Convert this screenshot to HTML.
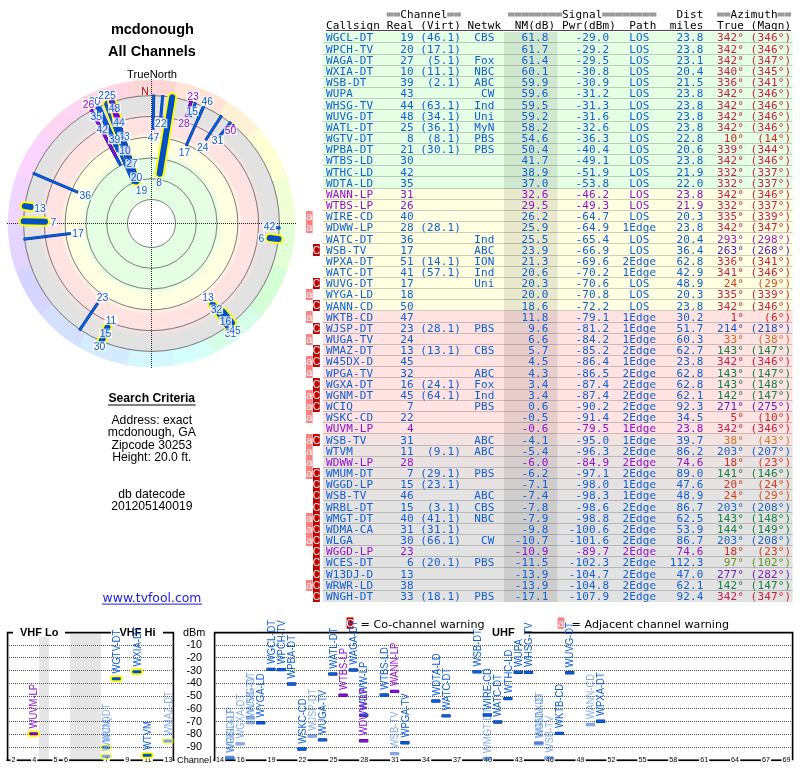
<!DOCTYPE html>
<html lang="en"><head><meta charset="utf-8"><title>TV Fool - mcdonough - All Channels</title>
<style>
html,body{margin:0;padding:0;background:#fff}
svg{display:block}
</style></head>
<body>
<svg width="800" height="768" viewBox="0 0 800 768">
<rect width="800" height="768" fill="#fff"/>
<defs>
<radialGradient id="bands" gradientUnits="userSpaceOnUse" cx="151.5" cy="223.5" r="127.9">
<stop offset="0.0000" stop-color="#e4ffe4"/>
<stop offset="0.5043" stop-color="#e4ffe4"/>
<stop offset="0.5629" stop-color="#ffffe2"/>
<stop offset="0.6607" stop-color="#ffffe2"/>
<stop offset="0.7154" stop-color="#ffe2e2"/>
<stop offset="0.8249" stop-color="#ffe2e2"/>
<stop offset="0.8796" stop-color="#e2e2e2"/>
<stop offset="1.0000" stop-color="#e2e2e2"/>
</radialGradient>
<filter id="soft" x="-10%" y="-10%" width="120%" height="120%"><feGaussianBlur stdDeviation="0.55"/></filter>
</defs>
<g filter="url(#soft)">
<path d="M151.5 223.5L125.81 82.12A143.7 143.7 0 0 1 177.19 82.12Z" fill="#ffd5d5"/>
<path d="M151.5 223.5L175.71 81.85A143.7 143.7 0 0 1 228.29 102.04Z" fill="#ffe3d5"/>
<path d="M151.5 223.5L227.01 101.24A143.7 143.7 0 0 1 260.44 129.79Z" fill="#fff1d5"/>
<path d="M151.5 223.5L259.46 128.66A143.7 143.7 0 0 1 287.61 177.43Z" fill="#ffffd5"/>
<path d="M151.5 223.5L287.12 176.01A143.7 143.7 0 0 1 295.2 224.25Z" fill="#f1ffd5"/>
<path d="M151.5 223.5L295.2 222.75A143.7 143.7 0 0 1 287.12 270.99Z" fill="#e3ffd5"/>
<path d="M151.5 223.5L287.61 269.57A143.7 143.7 0 0 1 261.1 316.44Z" fill="#d5ffd5"/>
<path d="M151.5 223.5L262.06 315.29A143.7 143.7 0 0 1 211.55 354.05Z" fill="#d5ffe6"/>
<path d="M151.5 223.5L212.91 353.42A143.7 143.7 0 0 1 173.24 365.55Z" fill="#d5fffb"/>
<path d="M151.5 223.5L174.72 365.31A143.7 143.7 0 0 1 125.81 364.88Z" fill="#d5f8ff"/>
<path d="M151.5 223.5L127.29 365.15A143.7 143.7 0 0 1 76.85 346.29Z" fill="#d5ebff"/>
<path d="M151.5 223.5L78.13 347.06A143.7 143.7 0 0 1 39.35 313.35Z" fill="#d5e0ff"/>
<path d="M151.5 223.5L40.3 314.52A143.7 143.7 0 0 1 15.39 269.57Z" fill="#d6d5ff"/>
<path d="M151.5 223.5L15.88 270.99A143.7 143.7 0 0 1 7.8 222.75Z" fill="#e3d5ff"/>
<path d="M151.5 223.5L7.8 224.25A143.7 143.7 0 0 1 16.73 173.65Z" fill="#f0d5ff"/>
<path d="M151.5 223.5L16.21 175.06A143.7 143.7 0 0 1 41.9 130.56Z" fill="#fbd5ff"/>
<path d="M151.5 223.5L40.94 131.71A143.7 143.7 0 0 1 84.7 96.27Z" fill="#ffd5f2"/>
<path d="M151.5 223.5L83.37 96.98A143.7 143.7 0 0 1 127.29 81.85Z" fill="#ffd5e4"/>
</g>
<circle cx="151.5" cy="223.5" r="127.9" fill="url(#bands)"/>
<circle cx="151.5" cy="223.5" r="24" fill="#fff"/>
<g fill="none" stroke="#484848" stroke-width="0.7">
<circle cx="151.5" cy="223.5" r="24"/>
<circle cx="151.5" cy="223.5" r="44.78"/>
<circle cx="151.5" cy="223.5" r="65.56"/>
<circle cx="151.5" cy="223.5" r="86.34"/>
<circle cx="151.5" cy="223.5" r="107.12"/>
<circle cx="151.5" cy="223.5" r="127.9"/>
</g>
<g stroke="#262626" stroke-width="1" stroke-dasharray="1 1" shape-rendering="crispEdges">
<line x1="7" y1="223.5" x2="297" y2="223.5"/>
<line x1="151.5" y1="79" x2="151.5" y2="368"/>
</g>
<line x1="138.55" y1="183.64" x2="111.67" y2="100.91" stroke="#003c9c" stroke-width="3"/>
<line x1="138.55" y1="183.64" x2="111.67" y2="100.91" stroke="#0a5cdc" stroke-width="1.9"/>
<line x1="138.52" y1="183.54" x2="111.67" y2="100.91" stroke="#003c9c" stroke-width="3"/>
<line x1="138.52" y1="183.54" x2="111.67" y2="100.91" stroke="#0a5cdc" stroke-width="1.9"/>
<line x1="138.42" y1="183.25" x2="111.67" y2="100.91" stroke="#003c9c" stroke-width="3"/>
<line x1="138.42" y1="183.25" x2="111.67" y2="100.91" stroke="#0a5cdc" stroke-width="1.9"/>
<line x1="136.22" y1="181.52" x2="107.76" y2="103.31" stroke="#ffff00" stroke-width="9.8" stroke-linecap="round"/>
<line x1="136.22" y1="181.52" x2="107.76" y2="103.31" stroke="#0050c8" stroke-width="6" stroke-linecap="round"/>
<line x1="133.65" y1="183.41" x2="99.07" y2="105.74" stroke="#003c9c" stroke-width="3"/>
<line x1="133.65" y1="183.41" x2="99.07" y2="105.74" stroke="#0a5cdc" stroke-width="1.9"/>
<line x1="137.84" y1="181.47" x2="111.67" y2="100.91" stroke="#003c9c" stroke-width="3"/>
<line x1="137.84" y1="181.47" x2="111.67" y2="100.91" stroke="#0a5cdc" stroke-width="1.9"/>
<line x1="137.81" y1="181.37" x2="111.67" y2="100.91" stroke="#003c9c" stroke-width="3"/>
<line x1="137.81" y1="181.37" x2="111.67" y2="100.91" stroke="#0a5cdc" stroke-width="1.9"/>
<line x1="137.71" y1="181.07" x2="111.67" y2="100.91" stroke="#003c9c" stroke-width="3"/>
<line x1="137.71" y1="181.07" x2="111.67" y2="100.91" stroke="#0a5cdc" stroke-width="1.9"/>
<line x1="137.39" y1="180.08" x2="111.67" y2="100.91" stroke="#003c9c" stroke-width="3"/>
<line x1="137.39" y1="180.08" x2="111.67" y2="100.91" stroke="#0a5cdc" stroke-width="1.9"/>
<line x1="159.64" y1="173.77" x2="172.17" y2="97.28" stroke="#ffff00" stroke-width="9.8" stroke-linecap="round"/>
<line x1="159.64" y1="173.77" x2="172.17" y2="97.28" stroke="#0050c8" stroke-width="6" stroke-linecap="round"/>
<line x1="132.24" y1="173.32" x2="105.31" y2="103.16" stroke="#003c9c" stroke-width="3"/>
<line x1="132.24" y1="173.32" x2="105.31" y2="103.16" stroke="#0a5cdc" stroke-width="1.9"/>
<line x1="132.1" y1="163.78" x2="111.67" y2="100.91" stroke="#003c9c" stroke-width="3"/>
<line x1="132.1" y1="163.78" x2="111.67" y2="100.91" stroke="#0a5cdc" stroke-width="1.9"/>
<line x1="120.65" y1="165.49" x2="90.99" y2="109.69" stroke="#003c9c" stroke-width="3"/>
<line x1="120.65" y1="165.49" x2="90.99" y2="109.69" stroke="#0a5cdc" stroke-width="1.9"/>
<line x1="119.73" y1="163.74" x2="90.99" y2="109.69" stroke="#003c9c" stroke-width="3"/>
<line x1="119.73" y1="163.74" x2="90.99" y2="109.69" stroke="#0a5cdc" stroke-width="1.9"/>
<line x1="129.17" y1="154.79" x2="111.67" y2="100.91" stroke="#4a0090" stroke-width="3"/>
<line x1="129.17" y1="154.79" x2="111.67" y2="100.91" stroke="#8a10dc" stroke-width="1.9"/>
<line x1="116.07" y1="156.86" x2="90.99" y2="109.69" stroke="#4a0090" stroke-width="3"/>
<line x1="116.07" y1="156.86" x2="90.99" y2="109.69" stroke="#8a10dc" stroke-width="1.9"/>
<line x1="118.16" y1="151.99" x2="97.02" y2="106.68" stroke="#003c9c" stroke-width="3"/>
<line x1="118.16" y1="151.99" x2="97.02" y2="106.68" stroke="#0a5cdc" stroke-width="1.9"/>
<line x1="127.02" y1="148.17" x2="111.67" y2="100.91" stroke="#003c9c" stroke-width="3"/>
<line x1="127.02" y1="148.17" x2="111.67" y2="100.91" stroke="#0a5cdc" stroke-width="1.9"/>
<line x1="78.2" y1="192.39" x2="32.85" y2="173.13" stroke="#003c9c" stroke-width="3"/>
<line x1="78.2" y1="192.39" x2="32.85" y2="173.13" stroke="#0a5cdc" stroke-width="1.9"/>
<line x1="70.82" y1="233.41" x2="23.56" y2="239.21" stroke="#003c9c" stroke-width="3"/>
<line x1="70.82" y1="233.41" x2="23.56" y2="239.21" stroke="#0a5cdc" stroke-width="1.9"/>
<line x1="117.34" y1="146.77" x2="99.07" y2="105.74" stroke="#003c9c" stroke-width="3"/>
<line x1="117.34" y1="146.77" x2="99.07" y2="105.74" stroke="#0a5cdc" stroke-width="1.9"/>
<line x1="123.92" y1="143.4" x2="109.53" y2="101.62" stroke="#003c9c" stroke-width="3"/>
<line x1="123.92" y1="143.4" x2="109.53" y2="101.62" stroke="#0a5cdc" stroke-width="1.9"/>
<line x1="186.08" y1="145.82" x2="203.93" y2="105.74" stroke="#003c9c" stroke-width="3"/>
<line x1="186.08" y1="145.82" x2="203.93" y2="105.74" stroke="#0a5cdc" stroke-width="1.9"/>
<line x1="115.43" y1="146.16" x2="97.02" y2="106.68" stroke="#003c9c" stroke-width="3"/>
<line x1="115.43" y1="146.16" x2="97.02" y2="106.68" stroke="#0a5cdc" stroke-width="1.9"/>
<line x1="124.68" y1="140.95" x2="111.67" y2="100.91" stroke="#003c9c" stroke-width="3"/>
<line x1="124.68" y1="140.95" x2="111.67" y2="100.91" stroke="#0a5cdc" stroke-width="1.9"/>
<line x1="153.14" y1="129.65" x2="153.75" y2="94.62" stroke="#003c9c" stroke-width="3"/>
<line x1="153.14" y1="129.65" x2="153.75" y2="94.62" stroke="#0a5cdc" stroke-width="1.9"/>
<line x1="97.74" y1="303.21" x2="79.42" y2="330.36" stroke="#003c9c" stroke-width="3"/>
<line x1="97.74" y1="303.21" x2="79.42" y2="330.36" stroke="#0a5cdc" stroke-width="1.9"/>
<line x1="205.56" y1="140.25" x2="221.7" y2="115.4" stroke="#003c9c" stroke-width="3"/>
<line x1="205.56" y1="140.25" x2="221.7" y2="115.4" stroke="#0a5cdc" stroke-width="1.9"/>
<line x1="212.4" y1="304.32" x2="228.47" y2="325.65" stroke="#ffff00" stroke-width="9.8" stroke-linecap="round"/>
<line x1="212.4" y1="304.32" x2="228.47" y2="325.65" stroke="#0050c8" stroke-width="6" stroke-linecap="round"/>
<line x1="120.15" y1="127.02" x2="111.67" y2="100.91" stroke="#003c9c" stroke-width="3"/>
<line x1="120.15" y1="127.02" x2="111.67" y2="100.91" stroke="#0a5cdc" stroke-width="1.9"/>
<line x1="212.68" y1="304.68" x2="229.07" y2="326.44" stroke="#003c9c" stroke-width="3"/>
<line x1="212.68" y1="304.68" x2="229.07" y2="326.44" stroke="#0a5cdc" stroke-width="1.9"/>
<line x1="213.24" y1="305.43" x2="229.07" y2="326.44" stroke="#003c9c" stroke-width="3"/>
<line x1="213.24" y1="305.43" x2="229.07" y2="326.44" stroke="#0a5cdc" stroke-width="1.9"/>
<line x1="214.66" y1="304.34" x2="230.86" y2="325.07" stroke="#003c9c" stroke-width="3"/>
<line x1="214.66" y1="304.34" x2="230.86" y2="325.07" stroke="#0a5cdc" stroke-width="1.9"/>
<line x1="45.02" y1="221.64" x2="23.62" y2="221.27" stroke="#ffff00" stroke-width="9.8" stroke-linecap="round"/>
<line x1="45.02" y1="221.64" x2="23.62" y2="221.27" stroke="#0050c8" stroke-width="6" stroke-linecap="round"/>
<line x1="160.79" y1="117.27" x2="162.73" y2="95.09" stroke="#003c9c" stroke-width="3"/>
<line x1="160.79" y1="117.27" x2="162.73" y2="95.09" stroke="#0a5cdc" stroke-width="1.9"/>
<line x1="118.21" y1="121.03" x2="111.98" y2="101.86" stroke="#ffff00" stroke-width="9.8" stroke-linecap="round"/>
<line x1="118.21" y1="121.03" x2="111.98" y2="101.86" stroke="#7a00c8" stroke-width="6" stroke-linecap="round"/>
<line x1="219.46" y1="136.52" x2="230.86" y2="121.93" stroke="#003c9c" stroke-width="3"/>
<line x1="219.46" y1="136.52" x2="230.86" y2="121.93" stroke="#0a5cdc" stroke-width="1.9"/>
<line x1="107.45" y1="327.27" x2="101.53" y2="341.23" stroke="#ffff00" stroke-width="9.8" stroke-linecap="round"/>
<line x1="107.45" y1="327.27" x2="101.53" y2="341.23" stroke="#0050c8" stroke-width="6" stroke-linecap="round"/>
<line x1="186.22" y1="116.64" x2="191.33" y2="100.91" stroke="#4a0090" stroke-width="3"/>
<line x1="186.22" y1="116.64" x2="191.33" y2="100.91" stroke="#8a10dc" stroke-width="1.9"/>
<line x1="222.97" y1="311.75" x2="231.99" y2="322.9" stroke="#ffff00" stroke-width="9.8" stroke-linecap="round"/>
<line x1="222.97" y1="311.75" x2="231.99" y2="322.9" stroke="#0050c8" stroke-width="6" stroke-linecap="round"/>
<line x1="190.32" y1="116.85" x2="195.59" y2="102.37" stroke="#003c9c" stroke-width="3"/>
<line x1="190.32" y1="116.85" x2="195.59" y2="102.37" stroke="#0a5cdc" stroke-width="1.9"/>
<line x1="197.79" y1="119.53" x2="203.93" y2="105.74" stroke="#003c9c" stroke-width="3"/>
<line x1="197.79" y1="119.53" x2="203.93" y2="105.74" stroke="#0a5cdc" stroke-width="1.9"/>
<line x1="106.87" y1="328.64" x2="101.13" y2="342.15" stroke="#003c9c" stroke-width="3"/>
<line x1="106.87" y1="328.64" x2="101.13" y2="342.15" stroke="#0a5cdc" stroke-width="1.9"/>
<line x1="220.3" y1="314.81" x2="229.07" y2="326.44" stroke="#003c9c" stroke-width="3"/>
<line x1="220.3" y1="314.81" x2="229.07" y2="326.44" stroke="#0a5cdc" stroke-width="1.9"/>
<line x1="219.86" y1="317.59" x2="227.27" y2="327.78" stroke="#003c9c" stroke-width="3"/>
<line x1="219.86" y1="317.59" x2="227.27" y2="327.78" stroke="#0a5cdc" stroke-width="1.9"/>
<line x1="105.69" y1="331.42" x2="101.13" y2="342.15" stroke="#003c9c" stroke-width="3"/>
<line x1="105.69" y1="331.42" x2="101.13" y2="342.15" stroke="#0a5cdc" stroke-width="1.9"/>
<line x1="187.79" y1="111.8" x2="191.33" y2="100.91" stroke="#4a0090" stroke-width="3"/>
<line x1="187.79" y1="111.8" x2="191.33" y2="100.91" stroke="#8a10dc" stroke-width="1.9"/>
<line x1="269.68" y1="238.01" x2="278.45" y2="239.09" stroke="#ffff00" stroke-width="9.8" stroke-linecap="round"/>
<line x1="269.68" y1="238.01" x2="278.45" y2="239.09" stroke="#0050c8" stroke-width="6" stroke-linecap="round"/>
<line x1="31.06" y1="207" x2="24.78" y2="206.14" stroke="#ffff00" stroke-width="9.8" stroke-linecap="round"/>
<line x1="31.06" y1="207" x2="24.78" y2="206.14" stroke="#0050c8" stroke-width="6" stroke-linecap="round"/>
<line x1="225.73" y1="318.5" x2="230.86" y2="325.07" stroke="#003c9c" stroke-width="3"/>
<line x1="225.73" y1="318.5" x2="230.86" y2="325.07" stroke="#0a5cdc" stroke-width="1.9"/>
<line x1="113.22" y1="105.68" x2="111.67" y2="100.91" stroke="#003c9c" stroke-width="3"/>
<line x1="113.22" y1="105.68" x2="111.67" y2="100.91" stroke="#0a5cdc" stroke-width="1.9"/>
<line x1="275.73" y1="227.84" x2="280.32" y2="228" stroke="#003c9c" stroke-width="3"/>
<line x1="275.73" y1="227.84" x2="280.32" y2="228" stroke="#0a5cdc" stroke-width="1.9"/>
<line x1="231.07" y1="128.68" x2="234.36" y2="124.76" stroke="#4a0090" stroke-width="3"/>
<line x1="231.07" y1="128.68" x2="234.36" y2="124.76" stroke="#8a10dc" stroke-width="1.9"/>
<g font-family='"Liberation Sans", Arial, sans-serif' font-size="10.3" text-anchor="middle">
<rect x="87.95" y="96.7" width="13.1" height="9.6" fill="#fff" fill-opacity="0.8"/>
<text x="94.5" y="105.2" fill="#0e5ed6">30</text>
<rect x="97.45" y="90.6" width="13.1" height="9.6" fill="#fff" fill-opacity="0.8"/>
<text x="104" y="99.1" fill="#0e5ed6">21</text>
<rect x="81.85" y="99.4" width="13.1" height="9.6" fill="#fff" fill-opacity="0.8"/>
<text x="88.4" y="107.9" fill="#9010d0">26</text>
<rect x="103.45" y="90.6" width="13.1" height="9.6" fill="#fff" fill-opacity="0.8"/>
<text x="110" y="99.1" fill="#0e5ed6">25</text>
<rect x="107.95" y="103.6" width="13.1" height="9.6" fill="#fff" fill-opacity="0.8"/>
<text x="114.5" y="112.1" fill="#0e5ed6">48</text>
<rect x="89.75" y="111.9" width="13.1" height="9.6" fill="#fff" fill-opacity="0.8"/>
<text x="96.3" y="120.4" fill="#0e5ed6">35</text>
<rect x="112.35" y="117.4" width="13.1" height="9.6" fill="#fff" fill-opacity="0.8"/>
<text x="118.9" y="125.9" fill="#0e5ed6">44</text>
<rect x="95.75" y="124.9" width="13.1" height="9.6" fill="#fff" fill-opacity="0.8"/>
<text x="102.3" y="133.4" fill="#0e5ed6">42</text>
<rect x="117.35" y="131.8" width="13.1" height="9.6" fill="#fff" fill-opacity="0.8"/>
<text x="123.9" y="140.3" fill="#0e5ed6">43</text>
<rect x="107.95" y="134.6" width="13.1" height="9.6" fill="#fff" fill-opacity="0.8"/>
<text x="114.5" y="143.1" fill="#0e5ed6">39</text>
<rect x="118.45" y="145.8" width="13.1" height="9.6" fill="#fff" fill-opacity="0.8"/>
<text x="125" y="154.3" fill="#0e5ed6">10</text>
<rect x="125.35" y="158.8" width="13.1" height="9.6" fill="#fff" fill-opacity="0.8"/>
<text x="131.9" y="167.3" fill="#0e5ed6">27</text>
<rect x="130.05" y="172.4" width="13.1" height="9.6" fill="#fff" fill-opacity="0.8"/>
<text x="136.6" y="180.9" fill="#0e5ed6">20</text>
<rect x="135.05" y="185.4" width="13.1" height="9.6" fill="#fff" fill-opacity="0.8"/>
<text x="141.6" y="193.9" fill="#0e5ed6">19</text>
<rect x="78.65" y="190.4" width="13.1" height="9.6" fill="#fff" fill-opacity="0.8"/>
<text x="85.2" y="198.9" fill="#0e5ed6">36</text>
<rect x="154.25" y="118.6" width="13.1" height="9.6" fill="#fff" fill-opacity="0.8"/>
<text x="160.8" y="127.1" fill="#0e5ed6">22</text>
<rect x="147.05" y="132.8" width="13.1" height="9.6" fill="#fff" fill-opacity="0.8"/>
<text x="153.6" y="141.3" fill="#0e5ed6">47</text>
<rect x="155.55" y="177.5" width="7.3" height="9.6" fill="#fff" fill-opacity="0.8"/>
<text x="159.2" y="186" fill="#0e5ed6">8</text>
<rect x="186.45" y="91.3" width="13.1" height="9.6" fill="#fff" fill-opacity="0.8"/>
<text x="193" y="99.8" fill="#9010d0">23</text>
<rect x="200.75" y="96.6" width="13.1" height="9.6" fill="#fff" fill-opacity="0.8"/>
<text x="207.3" y="105.1" fill="#0e5ed6">46</text>
<rect x="185.65" y="106.5" width="13.1" height="9.6" fill="#fff" fill-opacity="0.8"/>
<text x="192.2" y="115" fill="#0e5ed6">15</text>
<rect x="177.45" y="118.6" width="13.1" height="9.6" fill="#fff" fill-opacity="0.8"/>
<text x="184" y="127.1" fill="#9010d0">28</text>
<rect x="177.85" y="147.4" width="13.1" height="9.6" fill="#fff" fill-opacity="0.8"/>
<text x="184.4" y="155.9" fill="#0e5ed6">17</text>
<rect x="196.15" y="142.1" width="13.1" height="9.6" fill="#fff" fill-opacity="0.8"/>
<text x="202.7" y="150.6" fill="#0e5ed6">24</text>
<rect x="210.95" y="135.4" width="13.1" height="9.6" fill="#fff" fill-opacity="0.8"/>
<text x="217.5" y="143.9" fill="#0e5ed6">31</text>
<rect x="223.95" y="125.5" width="13.1" height="9.6" fill="#fff" fill-opacity="0.8"/>
<text x="230.5" y="134" fill="#9010d0">50</text>
<rect x="33.45" y="203.8" width="13.1" height="9.6" fill="#fff" fill-opacity="0.8"/>
<text x="40" y="212.3" fill="#0e5ed6">13</text>
<rect x="49.65" y="217.4" width="7.3" height="9.6" fill="#fff" fill-opacity="0.8"/>
<text x="53.3" y="225.9" fill="#0e5ed6">7</text>
<rect x="71.45" y="228.6" width="13.1" height="9.6" fill="#fff" fill-opacity="0.8"/>
<text x="78" y="237.1" fill="#0e5ed6">17</text>
<rect x="96.05" y="292.6" width="13.1" height="9.6" fill="#fff" fill-opacity="0.8"/>
<text x="102.6" y="301.1" fill="#0e5ed6">23</text>
<rect x="104.45" y="315.2" width="13.1" height="9.6" fill="#fff" fill-opacity="0.8"/>
<text x="111" y="323.7" fill="#0e5ed6">11</text>
<rect x="98.85" y="328.6" width="13.1" height="9.6" fill="#fff" fill-opacity="0.8"/>
<text x="105.4" y="337.1" fill="#0e5ed6">15</text>
<rect x="92.85" y="341.2" width="13.1" height="9.6" fill="#fff" fill-opacity="0.8"/>
<text x="99.4" y="349.7" fill="#0e5ed6">30</text>
<rect x="263.05" y="221.8" width="13.1" height="9.6" fill="#fff" fill-opacity="0.8"/>
<text x="269.6" y="230.3" fill="#0e5ed6">42</text>
<rect x="257.75" y="233.2" width="7.3" height="9.6" fill="#fff" fill-opacity="0.8"/>
<text x="261.4" y="241.7" fill="#0e5ed6">6</text>
<rect x="201.45" y="292.6" width="13.1" height="9.6" fill="#fff" fill-opacity="0.8"/>
<text x="208" y="301.1" fill="#0e5ed6">13</text>
<rect x="210.05" y="304.6" width="13.1" height="9.6" fill="#fff" fill-opacity="0.8"/>
<text x="216.6" y="313.1" fill="#0e5ed6">32</text>
<rect x="218.85" y="316.2" width="13.1" height="9.6" fill="#fff" fill-opacity="0.8"/>
<text x="225.4" y="324.7" fill="#0e5ed6">16</text>
<rect x="223.95" y="328.8" width="13.1" height="9.6" fill="#fff" fill-opacity="0.8"/>
<text x="230.5" y="337.3" fill="#0e5ed6">31</text>
<rect x="228.45" y="325.6" width="13.1" height="9.6" fill="#fff" fill-opacity="0.8"/>
<text x="235" y="334.1" fill="#0e5ed6">45</text>
</g>
<rect x="140.6" y="86.6" width="8.4" height="8.6" fill="#fff" fill-opacity="0.45"/>
<text x="144.9" y="94.6" font-family='"Liberation Sans", Arial, sans-serif' font-size="10.4" text-anchor="middle" fill="#cc0000">N</text>
<g font-family='"Liberation Sans", Arial, sans-serif' text-anchor="middle" fill="#000">
<text x="152.4" y="34" font-size="14.5" font-weight="bold">mcdonough</text>
<text x="152" y="56" font-size="14.5" font-weight="bold">All Channels</text>
<text x="152.1" y="78" font-size="11.2">TrueNorth</text>
<text x="151.8" y="401.7" font-size="12.2" font-weight="bold">Search Criteria</text>
<rect x="108" y="404.5" width="87.6" height="1" fill="#000"/>
<text x="151.8" y="424" font-size="12.2">Address: exact</text>
<text x="151.8" y="436.4" font-size="12.2">mcdonough, GA</text>
<text x="151.8" y="448.7" font-size="12.2">Zipcode 30253</text>
<text x="151.8" y="460.7" font-size="12.2">Height: 20.0 ft.</text>
<text x="151.8" y="497.7" font-size="12.2">db datecode</text>
<text x="151.8" y="509.8" font-size="12.2">201205140019</text>
</g>
<text x="152" y="601.6" font-family='"DejaVu Sans", "Liberation Sans", sans-serif' font-size="12.4" text-anchor="middle" fill="#1a1ae6">www.tvfool.com</text>
<rect x="102" y="603.6" width="100" height="1" fill="#1a1ae6"/>
<g font-family='"DejaVu Sans Mono", "Liberation Mono", monospace' font-size="11" xml:space="preserve">
<text x="386.66" y="17.5" fill="#9a9a9a" stroke="#9a9a9a" stroke-width="0.9" textLength="13.48" lengthAdjust="spacing">==</text>
<text x="400.14" y="17.5" fill="#000" textLength="47.18" lengthAdjust="spacing">Channel</text>
<text x="447.32" y="17.5" fill="#9a9a9a" stroke="#9a9a9a" stroke-width="0.9" textLength="13.48" lengthAdjust="spacing">==</text>
<text x="507.98" y="17.5" fill="#9a9a9a" stroke="#9a9a9a" stroke-width="0.9" textLength="53.92" lengthAdjust="spacing">========</text>
<text x="561.9" y="17.5" fill="#000" textLength="40.44" lengthAdjust="spacing">Signal</text>
<text x="602.34" y="17.5" fill="#9a9a9a" stroke="#9a9a9a" stroke-width="0.9" textLength="53.92" lengthAdjust="spacing">========</text>
<text x="676.48" y="17.5" fill="#000" textLength="26.96" lengthAdjust="spacing">Dist</text>
<text x="716.92" y="17.5" fill="#9a9a9a" stroke="#9a9a9a" stroke-width="0.9" textLength="13.48" lengthAdjust="spacing">==</text>
<text x="730.4" y="17.5" fill="#000" textLength="47.18" lengthAdjust="spacing">Azimuth</text>
<text x="777.58" y="17.5" fill="#9a9a9a" stroke="#9a9a9a" stroke-width="0.9" textLength="13.48" lengthAdjust="spacing">==</text>
<text x="326" y="28.8" fill="#000" textLength="53.92" lengthAdjust="spacing">Callsign</text>
<text x="386.66" y="28.8" fill="#000" textLength="26.96" lengthAdjust="spacing">Real</text>
<text x="420.36" y="28.8" fill="#000" textLength="40.44" lengthAdjust="spacing">(Virt)</text>
<text x="467.54" y="28.8" fill="#000" textLength="33.7" lengthAdjust="spacing">Netwk</text>
<text x="514.72" y="28.8" fill="#000" textLength="40.44" lengthAdjust="spacing">NM(dB)</text>
<text x="561.9" y="28.8" fill="#000" textLength="53.92" lengthAdjust="spacing">Pwr(dBm)</text>
<text x="629.3" y="28.8" fill="#000" textLength="26.96" lengthAdjust="spacing">Path</text>
<text x="669.74" y="28.8" fill="#000" textLength="33.7" lengthAdjust="spacing">miles</text>
<text x="716.92" y="28.8" fill="#000" textLength="26.96" lengthAdjust="spacing">True</text>
<text x="750.62" y="28.8" fill="#000" textLength="40.44" lengthAdjust="spacing">(Magn)</text>
</g>
<rect x="326" y="30" width="465" height="1" fill="#4a4a4a"/>
<rect x="323" y="32" width="469.5" height="11" fill="#e4ffe4"/>
<rect x="323" y="43" width="469.5" height="12" fill="#e4ffe4"/>
<rect x="323" y="55" width="469.5" height="11" fill="#e4ffe4"/>
<rect x="323" y="66" width="469.5" height="11" fill="#e4ffe4"/>
<rect x="323" y="77" width="469.5" height="11" fill="#e4ffe4"/>
<rect x="323" y="88" width="469.5" height="11" fill="#e4ffe4"/>
<rect x="323" y="99" width="469.5" height="11" fill="#e4ffe4"/>
<rect x="323" y="110" width="469.5" height="12" fill="#e4ffe4"/>
<rect x="323" y="122" width="469.5" height="11" fill="#e4ffe4"/>
<rect x="323" y="133" width="469.5" height="11" fill="#e4ffe4"/>
<rect x="323" y="144" width="469.5" height="11" fill="#e4ffe4"/>
<rect x="323" y="155" width="469.5" height="11" fill="#e4ffe4"/>
<rect x="323" y="166" width="469.5" height="11" fill="#e4ffe4"/>
<rect x="323" y="177" width="469.5" height="12" fill="#e4ffe4"/>
<rect x="323" y="189" width="469.5" height="11" fill="#ffffe2"/>
<rect x="323" y="200" width="469.5" height="11" fill="#ffffe2"/>
<rect x="323" y="211" width="469.5" height="11" fill="#ffffe2"/>
<rect x="323" y="222" width="469.5" height="11" fill="#ffffe2"/>
<rect x="323" y="233" width="469.5" height="11" fill="#ffffe2"/>
<rect x="323" y="244" width="469.5" height="12" fill="#ffffe2"/>
<rect x="323" y="256" width="469.5" height="11" fill="#ffffe2"/>
<rect x="323" y="267" width="469.5" height="11" fill="#ffffe2"/>
<rect x="323" y="278" width="469.5" height="11" fill="#ffffe2"/>
<rect x="323" y="289" width="469.5" height="11" fill="#ffffe2"/>
<rect x="323" y="300" width="469.5" height="11" fill="#ffffe2"/>
<rect x="323" y="311" width="469.5" height="12" fill="#ffe2e2"/>
<rect x="323" y="323" width="469.5" height="11" fill="#ffe2e2"/>
<rect x="323" y="334" width="469.5" height="11" fill="#ffe2e2"/>
<rect x="323" y="345" width="469.5" height="11" fill="#ffe2e2"/>
<rect x="323" y="356" width="469.5" height="11" fill="#ffe2e2"/>
<rect x="323" y="367" width="469.5" height="11" fill="#ffe2e2"/>
<rect x="323" y="378" width="469.5" height="12" fill="#ffe2e2"/>
<rect x="323" y="390" width="469.5" height="11" fill="#ffe2e2"/>
<rect x="323" y="401" width="469.5" height="11" fill="#ffe2e2"/>
<rect x="323" y="412" width="469.5" height="11" fill="#ffe2e2"/>
<rect x="323" y="423" width="469.5" height="11" fill="#ffe2e2"/>
<rect x="323" y="434" width="469.5" height="12" fill="#f2e2e2"/>
<rect x="323" y="446" width="469.5" height="11" fill="#ede2e2"/>
<rect x="323" y="457" width="469.5" height="11" fill="#eae2e2"/>
<rect x="323" y="468" width="469.5" height="11" fill="#e9e2e2"/>
<rect x="323" y="479" width="469.5" height="11" fill="#e6e2e2"/>
<rect x="323" y="490" width="469.5" height="11" fill="#e4e2e2"/>
<rect x="323" y="501" width="469.5" height="12" fill="#e3e2e2"/>
<rect x="323" y="513" width="469.5" height="11" fill="#e2e2e2"/>
<rect x="323" y="524" width="469.5" height="11" fill="#e2e2e2"/>
<rect x="323" y="535" width="469.5" height="11" fill="#e2e2e2"/>
<rect x="323" y="546" width="469.5" height="11" fill="#e2e2e2"/>
<rect x="323" y="557" width="469.5" height="11" fill="#e2e2e2"/>
<rect x="323" y="568" width="469.5" height="12" fill="#e2e2e2"/>
<rect x="323" y="580" width="469.5" height="11" fill="#e2e2e2"/>
<rect x="323" y="591" width="469.5" height="11" fill="#e2e2e2"/>
<rect x="504" y="32" width="53.5" height="570" fill="#000" fill-opacity="0.09"/>
<g fill="#000" fill-opacity="0.19">
<rect x="323" y="42" width="469.5" height="1"/>
<rect x="323" y="54" width="469.5" height="1"/>
<rect x="323" y="65" width="469.5" height="1"/>
<rect x="323" y="76" width="469.5" height="1"/>
<rect x="323" y="87" width="469.5" height="1"/>
<rect x="323" y="98" width="469.5" height="1"/>
<rect x="323" y="109" width="469.5" height="1"/>
<rect x="323" y="121" width="469.5" height="1"/>
<rect x="323" y="132" width="469.5" height="1"/>
<rect x="323" y="143" width="469.5" height="1"/>
<rect x="323" y="154" width="469.5" height="1"/>
<rect x="323" y="165" width="469.5" height="1"/>
<rect x="323" y="176" width="469.5" height="1"/>
<rect x="323" y="188" width="469.5" height="1"/>
<rect x="323" y="199" width="469.5" height="1"/>
<rect x="323" y="210" width="469.5" height="1"/>
<rect x="323" y="221" width="469.5" height="1"/>
<rect x="323" y="232" width="469.5" height="1"/>
<rect x="323" y="243" width="469.5" height="1"/>
<rect x="323" y="255" width="469.5" height="1"/>
<rect x="323" y="266" width="469.5" height="1"/>
<rect x="323" y="277" width="469.5" height="1"/>
<rect x="323" y="288" width="469.5" height="1"/>
<rect x="323" y="299" width="469.5" height="1"/>
<rect x="323" y="310" width="469.5" height="1"/>
<rect x="323" y="322" width="469.5" height="1"/>
<rect x="323" y="333" width="469.5" height="1"/>
<rect x="323" y="344" width="469.5" height="1"/>
<rect x="323" y="355" width="469.5" height="1"/>
<rect x="323" y="366" width="469.5" height="1"/>
<rect x="323" y="377" width="469.5" height="1"/>
<rect x="323" y="389" width="469.5" height="1"/>
<rect x="323" y="400" width="469.5" height="1"/>
<rect x="323" y="411" width="469.5" height="1"/>
<rect x="323" y="422" width="469.5" height="1"/>
<rect x="323" y="433" width="469.5" height="1"/>
<rect x="323" y="445" width="469.5" height="1"/>
<rect x="323" y="456" width="469.5" height="1"/>
<rect x="323" y="467" width="469.5" height="1"/>
<rect x="323" y="478" width="469.5" height="1"/>
<rect x="323" y="489" width="469.5" height="1"/>
<rect x="323" y="500" width="469.5" height="1"/>
<rect x="323" y="512" width="469.5" height="1"/>
<rect x="323" y="523" width="469.5" height="1"/>
<rect x="323" y="534" width="469.5" height="1"/>
<rect x="323" y="545" width="469.5" height="1"/>
<rect x="323" y="556" width="469.5" height="1"/>
<rect x="323" y="567" width="469.5" height="1"/>
<rect x="323" y="579" width="469.5" height="1"/>
<rect x="323" y="590" width="469.5" height="1"/>
</g>
<g font-family='"Liberation Sans", Arial, sans-serif' font-size="11" text-anchor="middle" fill="#fff">
<rect x="306" y="211" width="6.6" height="11" fill="#ff8080"/>
<text x="309.3" y="219.8">a</text>
<rect x="306" y="222" width="6.6" height="11" fill="#ff8080"/>
<text x="309.3" y="230.8">a</text>
<rect x="313" y="244" width="6.8" height="12" fill="#c00000"/>
<text x="316.4" y="253.8" font-size="10">C</text>
<rect x="313" y="278" width="6.8" height="11" fill="#c00000"/>
<text x="316.4" y="286.8" font-size="10">C</text>
<rect x="306" y="289" width="6.6" height="11" fill="#ff8080"/>
<text x="309.3" y="297.8">a</text>
<rect x="313" y="300" width="6.8" height="11" fill="#c00000"/>
<text x="316.4" y="308.8" font-size="10">C</text>
<rect x="306" y="311" width="6.6" height="12" fill="#ff8080"/>
<text x="309.3" y="320.8">a</text>
<rect x="313" y="323" width="6.8" height="11" fill="#c00000"/>
<text x="316.4" y="331.8" font-size="10">C</text>
<rect x="306" y="334" width="6.6" height="11" fill="#ff8080"/>
<text x="309.3" y="342.8">a</text>
<rect x="313" y="345" width="6.8" height="11" fill="#c00000"/>
<text x="316.4" y="353.8" font-size="10">C</text>
<rect x="306" y="356" width="6.6" height="11" fill="#ff8080"/>
<text x="309.3" y="364.8">a</text>
<rect x="313" y="356" width="6.8" height="11" fill="#c00000"/>
<text x="316.4" y="364.8" font-size="10">C</text>
<rect x="306" y="367" width="6.6" height="11" fill="#ff8080"/>
<text x="309.3" y="375.8">a</text>
<rect x="313" y="378" width="6.8" height="12" fill="#c00000"/>
<text x="316.4" y="387.8" font-size="10">C</text>
<rect x="306" y="390" width="6.6" height="11" fill="#ff8080"/>
<text x="309.3" y="398.8">a</text>
<rect x="313" y="390" width="6.8" height="11" fill="#c00000"/>
<text x="316.4" y="398.8" font-size="10">C</text>
<rect x="306" y="401" width="6.6" height="11" fill="#ff8080"/>
<text x="309.3" y="409.8">a</text>
<rect x="313" y="401" width="6.8" height="11" fill="#c00000"/>
<text x="316.4" y="409.8" font-size="10">C</text>
<rect x="306" y="412" width="6.6" height="11" fill="#ff8080"/>
<text x="309.3" y="420.8">a</text>
<rect x="306" y="434" width="6.6" height="12" fill="#ff8080"/>
<text x="309.3" y="443.8">a</text>
<rect x="313" y="434" width="6.8" height="12" fill="#c00000"/>
<text x="316.4" y="443.8" font-size="10">C</text>
<rect x="306" y="446" width="6.6" height="11" fill="#ff8080"/>
<text x="309.3" y="454.8">a</text>
<rect x="306" y="457" width="6.6" height="11" fill="#ff8080"/>
<text x="309.3" y="465.8">a</text>
<rect x="306" y="468" width="6.6" height="11" fill="#ff8080"/>
<text x="309.3" y="476.8">a</text>
<rect x="313" y="468" width="6.8" height="11" fill="#c00000"/>
<text x="316.4" y="476.8" font-size="10">C</text>
<rect x="313" y="479" width="6.8" height="11" fill="#c00000"/>
<text x="316.4" y="487.8" font-size="10">C</text>
<rect x="313" y="490" width="6.8" height="11" fill="#c00000"/>
<text x="316.4" y="498.8" font-size="10">C</text>
<rect x="313" y="501" width="6.8" height="12" fill="#c00000"/>
<text x="316.4" y="510.8" font-size="10">C</text>
<rect x="306" y="513" width="6.6" height="11" fill="#ff8080"/>
<text x="309.3" y="521.8">a</text>
<rect x="313" y="513" width="6.8" height="11" fill="#c00000"/>
<text x="316.4" y="521.8" font-size="10">C</text>
<rect x="306" y="524" width="6.6" height="11" fill="#ff8080"/>
<text x="309.3" y="532.8">a</text>
<rect x="313" y="524" width="6.8" height="11" fill="#c00000"/>
<text x="316.4" y="532.8" font-size="10">C</text>
<rect x="306" y="535" width="6.6" height="11" fill="#ff8080"/>
<text x="309.3" y="543.8">a</text>
<rect x="313" y="535" width="6.8" height="11" fill="#c00000"/>
<text x="316.4" y="543.8" font-size="10">C</text>
<rect x="313" y="546" width="6.8" height="11" fill="#c00000"/>
<text x="316.4" y="554.8" font-size="10">C</text>
<rect x="313" y="557" width="6.8" height="11" fill="#c00000"/>
<text x="316.4" y="565.8" font-size="10">C</text>
<rect x="313" y="568" width="6.8" height="12" fill="#c00000"/>
<text x="316.4" y="577.8" font-size="10">C</text>
<rect x="306" y="580" width="6.6" height="11" fill="#ff8080"/>
<text x="309.3" y="588.8">a</text>
<rect x="313" y="580" width="6.8" height="11" fill="#c00000"/>
<text x="316.4" y="588.8" font-size="10">C</text>
<rect x="313" y="591" width="6.8" height="11" fill="#c00000"/>
<text x="316.4" y="599.8" font-size="10">C</text>
</g>
<g font-family='"DejaVu Sans Mono", "Liberation Mono", monospace' font-size="11" xml:space="preserve">
<text transform="translate(326 40.9) scale(1 0.88)" fill="#0e5ed6" textLength="47.18" lengthAdjust="spacing">WGCL-DT</text>
<text x="400.14" y="40.9" fill="#0e5ed6" textLength="13.48" lengthAdjust="spacing">19</text>
<text x="420.36" y="40.9" fill="#0e5ed6" textLength="40.44" lengthAdjust="spacing">(46.1)</text>
<text transform="translate(474.28 40.9) scale(1 0.88)" fill="#0e5ed6" textLength="20.22" lengthAdjust="spacing">CBS</text>
<text x="521.46" y="40.9" fill="#0e5ed6" textLength="26.96" lengthAdjust="spacing">61.8</text>
<text x="575.38" y="40.9" fill="#0e5ed6" textLength="33.7" lengthAdjust="spacing">-29.0</text>
<text transform="translate(629.3 40.9) scale(1 0.88)" fill="#0e5ed6" textLength="20.22" lengthAdjust="spacing">LOS</text>
<text x="676.48" y="40.9" fill="#0e5ed6" textLength="26.96" lengthAdjust="spacing">23.8</text>
<text x="716.92" y="40.9" fill="#c81e48" textLength="26.96" lengthAdjust="spacing">342°</text>
<text x="750.62" y="40.9" fill="#ca1e40" textLength="40.44" lengthAdjust="spacing">(346°)</text>
<text transform="translate(326 52.9) scale(1 0.88)" fill="#0e5ed6" textLength="47.18" lengthAdjust="spacing">WPCH-TV</text>
<text x="400.14" y="52.9" fill="#0e5ed6" textLength="13.48" lengthAdjust="spacing">20</text>
<text x="420.36" y="52.9" fill="#0e5ed6" textLength="40.44" lengthAdjust="spacing">(17.1)</text>
<text x="521.46" y="52.9" fill="#0e5ed6" textLength="26.96" lengthAdjust="spacing">61.7</text>
<text x="575.38" y="52.9" fill="#0e5ed6" textLength="33.7" lengthAdjust="spacing">-29.2</text>
<text transform="translate(629.3 52.9) scale(1 0.88)" fill="#0e5ed6" textLength="20.22" lengthAdjust="spacing">LOS</text>
<text x="676.48" y="52.9" fill="#0e5ed6" textLength="26.96" lengthAdjust="spacing">23.8</text>
<text x="716.92" y="52.9" fill="#c81e48" textLength="26.96" lengthAdjust="spacing">342°</text>
<text x="750.62" y="52.9" fill="#ca1e40" textLength="40.44" lengthAdjust="spacing">(346°)</text>
<text transform="translate(326 63.9) scale(1 0.88)" fill="#0e5ed6" textLength="47.18" lengthAdjust="spacing">WAGA-DT</text>
<text x="400.14" y="63.9" fill="#0e5ed6" textLength="13.48" lengthAdjust="spacing">27</text>
<text x="427.1" y="63.9" fill="#0e5ed6" textLength="33.7" lengthAdjust="spacing">(5.1)</text>
<text transform="translate(474.28 63.9) scale(1 0.88)" fill="#0e5ed6" textLength="20.22" lengthAdjust="spacing">Fox</text>
<text x="521.46" y="63.9" fill="#0e5ed6" textLength="26.96" lengthAdjust="spacing">61.4</text>
<text x="575.38" y="63.9" fill="#0e5ed6" textLength="33.7" lengthAdjust="spacing">-29.5</text>
<text transform="translate(629.3 63.9) scale(1 0.88)" fill="#0e5ed6" textLength="20.22" lengthAdjust="spacing">LOS</text>
<text x="676.48" y="63.9" fill="#0e5ed6" textLength="26.96" lengthAdjust="spacing">23.1</text>
<text x="716.92" y="63.9" fill="#c81e48" textLength="26.96" lengthAdjust="spacing">342°</text>
<text x="750.62" y="63.9" fill="#ca1e3e" textLength="40.44" lengthAdjust="spacing">(347°)</text>
<text transform="translate(326 74.9) scale(1 0.88)" fill="#0e5ed6" textLength="47.18" lengthAdjust="spacing">WXIA-DT</text>
<text x="400.14" y="74.9" fill="#0e5ed6" textLength="13.48" lengthAdjust="spacing">10</text>
<text x="420.36" y="74.9" fill="#0e5ed6" textLength="40.44" lengthAdjust="spacing">(11.1)</text>
<text transform="translate(474.28 74.9) scale(1 0.88)" fill="#0e5ed6" textLength="20.22" lengthAdjust="spacing">NBC</text>
<text x="521.46" y="74.9" fill="#0e5ed6" textLength="26.96" lengthAdjust="spacing">60.1</text>
<text x="575.38" y="74.9" fill="#0e5ed6" textLength="33.7" lengthAdjust="spacing">-30.8</text>
<text transform="translate(629.3 74.9) scale(1 0.88)" fill="#0e5ed6" textLength="20.22" lengthAdjust="spacing">LOS</text>
<text x="676.48" y="74.9" fill="#0e5ed6" textLength="26.96" lengthAdjust="spacing">20.4</text>
<text x="716.92" y="74.9" fill="#c81e4b" textLength="26.96" lengthAdjust="spacing">340°</text>
<text x="750.62" y="74.9" fill="#c91e42" textLength="40.44" lengthAdjust="spacing">(345°)</text>
<text transform="translate(326 85.9) scale(1 0.88)" fill="#0e5ed6" textLength="40.44" lengthAdjust="spacing">WSB-DT</text>
<text x="400.14" y="85.9" fill="#0e5ed6" textLength="13.48" lengthAdjust="spacing">39</text>
<text x="427.1" y="85.9" fill="#0e5ed6" textLength="33.7" lengthAdjust="spacing">(2.1)</text>
<text transform="translate(474.28 85.9) scale(1 0.88)" fill="#0e5ed6" textLength="20.22" lengthAdjust="spacing">ABC</text>
<text x="521.46" y="85.9" fill="#0e5ed6" textLength="26.96" lengthAdjust="spacing">59.9</text>
<text x="575.38" y="85.9" fill="#0e5ed6" textLength="33.7" lengthAdjust="spacing">-30.9</text>
<text transform="translate(629.3 85.9) scale(1 0.88)" fill="#0e5ed6" textLength="20.22" lengthAdjust="spacing">LOS</text>
<text x="676.48" y="85.9" fill="#0e5ed6" textLength="26.96" lengthAdjust="spacing">21.5</text>
<text x="716.92" y="85.9" fill="#c81e50" textLength="26.96" lengthAdjust="spacing">336°</text>
<text x="750.62" y="85.9" fill="#c81e49" textLength="40.44" lengthAdjust="spacing">(341°)</text>
<text transform="translate(326 96.9) scale(1 0.88)" fill="#0e5ed6" textLength="26.96" lengthAdjust="spacing">WUPA</text>
<text x="400.14" y="96.9" fill="#0e5ed6" textLength="13.48" lengthAdjust="spacing">43</text>
<text transform="translate(481.02 96.9) scale(1 0.88)" fill="#0e5ed6" textLength="13.48" lengthAdjust="spacing">CW</text>
<text x="521.46" y="96.9" fill="#0e5ed6" textLength="26.96" lengthAdjust="spacing">59.6</text>
<text x="575.38" y="96.9" fill="#0e5ed6" textLength="33.7" lengthAdjust="spacing">-31.2</text>
<text transform="translate(629.3 96.9) scale(1 0.88)" fill="#0e5ed6" textLength="20.22" lengthAdjust="spacing">LOS</text>
<text x="676.48" y="96.9" fill="#0e5ed6" textLength="26.96" lengthAdjust="spacing">23.8</text>
<text x="716.92" y="96.9" fill="#c81e48" textLength="26.96" lengthAdjust="spacing">342°</text>
<text x="750.62" y="96.9" fill="#ca1e40" textLength="40.44" lengthAdjust="spacing">(346°)</text>
<text transform="translate(326 108.9) scale(1 0.88)" fill="#0e5ed6" textLength="47.18" lengthAdjust="spacing">WHSG-TV</text>
<text x="400.14" y="108.9" fill="#0e5ed6" textLength="13.48" lengthAdjust="spacing">44</text>
<text x="420.36" y="108.9" fill="#0e5ed6" textLength="40.44" lengthAdjust="spacing">(63.1)</text>
<text transform="translate(474.28 108.9) scale(1 0.88)" fill="#0e5ed6" textLength="20.22" lengthAdjust="spacing">Ind</text>
<text x="521.46" y="108.9" fill="#0e5ed6" textLength="26.96" lengthAdjust="spacing">59.5</text>
<text x="575.38" y="108.9" fill="#0e5ed6" textLength="33.7" lengthAdjust="spacing">-31.3</text>
<text transform="translate(629.3 108.9) scale(1 0.88)" fill="#0e5ed6" textLength="20.22" lengthAdjust="spacing">LOS</text>
<text x="676.48" y="108.9" fill="#0e5ed6" textLength="26.96" lengthAdjust="spacing">23.8</text>
<text x="716.92" y="108.9" fill="#c81e48" textLength="26.96" lengthAdjust="spacing">342°</text>
<text x="750.62" y="108.9" fill="#ca1e40" textLength="40.44" lengthAdjust="spacing">(346°)</text>
<text transform="translate(326 119.9) scale(1 0.88)" fill="#0e5ed6" textLength="47.18" lengthAdjust="spacing">WUVG-DT</text>
<text x="400.14" y="119.9" fill="#0e5ed6" textLength="13.48" lengthAdjust="spacing">48</text>
<text x="420.36" y="119.9" fill="#0e5ed6" textLength="40.44" lengthAdjust="spacing">(34.1)</text>
<text transform="translate(474.28 119.9) scale(1 0.88)" fill="#0e5ed6" textLength="20.22" lengthAdjust="spacing">Uni</text>
<text x="521.46" y="119.9" fill="#0e5ed6" textLength="26.96" lengthAdjust="spacing">59.2</text>
<text x="575.38" y="119.9" fill="#0e5ed6" textLength="33.7" lengthAdjust="spacing">-31.6</text>
<text transform="translate(629.3 119.9) scale(1 0.88)" fill="#0e5ed6" textLength="20.22" lengthAdjust="spacing">LOS</text>
<text x="676.48" y="119.9" fill="#0e5ed6" textLength="26.96" lengthAdjust="spacing">23.8</text>
<text x="716.92" y="119.9" fill="#c81e48" textLength="26.96" lengthAdjust="spacing">342°</text>
<text x="750.62" y="119.9" fill="#ca1e40" textLength="40.44" lengthAdjust="spacing">(346°)</text>
<text transform="translate(326 130.9) scale(1 0.88)" fill="#0e5ed6" textLength="47.18" lengthAdjust="spacing">WATL-DT</text>
<text x="400.14" y="130.9" fill="#0e5ed6" textLength="13.48" lengthAdjust="spacing">25</text>
<text x="420.36" y="130.9" fill="#0e5ed6" textLength="40.44" lengthAdjust="spacing">(36.1)</text>
<text transform="translate(474.28 130.9) scale(1 0.88)" fill="#0e5ed6" textLength="20.22" lengthAdjust="spacing">MyN</text>
<text x="521.46" y="130.9" fill="#0e5ed6" textLength="26.96" lengthAdjust="spacing">58.2</text>
<text x="575.38" y="130.9" fill="#0e5ed6" textLength="33.7" lengthAdjust="spacing">-32.6</text>
<text transform="translate(629.3 130.9) scale(1 0.88)" fill="#0e5ed6" textLength="20.22" lengthAdjust="spacing">LOS</text>
<text x="676.48" y="130.9" fill="#0e5ed6" textLength="26.96" lengthAdjust="spacing">23.8</text>
<text x="716.92" y="130.9" fill="#c81e48" textLength="26.96" lengthAdjust="spacing">342°</text>
<text x="750.62" y="130.9" fill="#ca1e40" textLength="40.44" lengthAdjust="spacing">(346°)</text>
<text transform="translate(326 141.9) scale(1 0.88)" fill="#0e5ed6" textLength="47.18" lengthAdjust="spacing">WGTV-DT</text>
<text x="406.88" y="141.9" fill="#0e5ed6" textLength="6.74" lengthAdjust="spacing">8</text>
<text x="427.1" y="141.9" fill="#0e5ed6" textLength="33.7" lengthAdjust="spacing">(8.1)</text>
<text transform="translate(474.28 141.9) scale(1 0.88)" fill="#0e5ed6" textLength="20.22" lengthAdjust="spacing">PBS</text>
<text x="521.46" y="141.9" fill="#0e5ed6" textLength="26.96" lengthAdjust="spacing">54.6</text>
<text x="575.38" y="141.9" fill="#0e5ed6" textLength="33.7" lengthAdjust="spacing">-36.3</text>
<text transform="translate(629.3 141.9) scale(1 0.88)" fill="#0e5ed6" textLength="20.22" lengthAdjust="spacing">LOS</text>
<text x="676.48" y="141.9" fill="#0e5ed6" textLength="26.96" lengthAdjust="spacing">22.8</text>
<text x="723.66" y="141.9" fill="#ce2820" textLength="20.22" lengthAdjust="spacing">10°</text>
<text x="757.36" y="141.9" fill="#cf2b1f" textLength="33.7" lengthAdjust="spacing">(14°)</text>
<text transform="translate(326 152.9) scale(1 0.88)" fill="#0e5ed6" textLength="47.18" lengthAdjust="spacing">WPBA-DT</text>
<text x="400.14" y="152.9" fill="#0e5ed6" textLength="13.48" lengthAdjust="spacing">21</text>
<text x="420.36" y="152.9" fill="#0e5ed6" textLength="40.44" lengthAdjust="spacing">(30.1)</text>
<text transform="translate(474.28 152.9) scale(1 0.88)" fill="#0e5ed6" textLength="20.22" lengthAdjust="spacing">PBS</text>
<text x="521.46" y="152.9" fill="#0e5ed6" textLength="26.96" lengthAdjust="spacing">50.4</text>
<text x="575.38" y="152.9" fill="#0e5ed6" textLength="33.7" lengthAdjust="spacing">-40.4</text>
<text transform="translate(629.3 152.9) scale(1 0.88)" fill="#0e5ed6" textLength="20.22" lengthAdjust="spacing">LOS</text>
<text x="676.48" y="152.9" fill="#0e5ed6" textLength="26.96" lengthAdjust="spacing">20.6</text>
<text x="716.92" y="152.9" fill="#c81e4c" textLength="26.96" lengthAdjust="spacing">339°</text>
<text x="750.62" y="152.9" fill="#c91e44" textLength="40.44" lengthAdjust="spacing">(344°)</text>
<text transform="translate(326 163.9) scale(1 0.88)" fill="#0e5ed6" textLength="47.18" lengthAdjust="spacing">WTBS-LD</text>
<text x="400.14" y="163.9" fill="#0e5ed6" textLength="13.48" lengthAdjust="spacing">30</text>
<text x="521.46" y="163.9" fill="#0e5ed6" textLength="26.96" lengthAdjust="spacing">41.7</text>
<text x="575.38" y="163.9" fill="#0e5ed6" textLength="33.7" lengthAdjust="spacing">-49.1</text>
<text transform="translate(629.3 163.9) scale(1 0.88)" fill="#0e5ed6" textLength="20.22" lengthAdjust="spacing">LOS</text>
<text x="676.48" y="163.9" fill="#0e5ed6" textLength="26.96" lengthAdjust="spacing">23.8</text>
<text x="716.92" y="163.9" fill="#c81e48" textLength="26.96" lengthAdjust="spacing">342°</text>
<text x="750.62" y="163.9" fill="#ca1e40" textLength="40.44" lengthAdjust="spacing">(346°)</text>
<text transform="translate(326 175.9) scale(1 0.88)" fill="#0e5ed6" textLength="47.18" lengthAdjust="spacing">WTHC-LD</text>
<text x="400.14" y="175.9" fill="#0e5ed6" textLength="13.48" lengthAdjust="spacing">42</text>
<text x="521.46" y="175.9" fill="#0e5ed6" textLength="26.96" lengthAdjust="spacing">38.9</text>
<text x="575.38" y="175.9" fill="#0e5ed6" textLength="33.7" lengthAdjust="spacing">-51.9</text>
<text transform="translate(629.3 175.9) scale(1 0.88)" fill="#0e5ed6" textLength="20.22" lengthAdjust="spacing">LOS</text>
<text x="676.48" y="175.9" fill="#0e5ed6" textLength="26.96" lengthAdjust="spacing">21.9</text>
<text x="716.92" y="175.9" fill="#c81e55" textLength="26.96" lengthAdjust="spacing">332°</text>
<text x="750.62" y="175.9" fill="#c81e4e" textLength="40.44" lengthAdjust="spacing">(337°)</text>
<text transform="translate(326 186.9) scale(1 0.88)" fill="#0e5ed6" textLength="47.18" lengthAdjust="spacing">WDTA-LD</text>
<text x="400.14" y="186.9" fill="#0e5ed6" textLength="13.48" lengthAdjust="spacing">35</text>
<text x="521.46" y="186.9" fill="#0e5ed6" textLength="26.96" lengthAdjust="spacing">37.0</text>
<text x="575.38" y="186.9" fill="#0e5ed6" textLength="33.7" lengthAdjust="spacing">-53.8</text>
<text transform="translate(629.3 186.9) scale(1 0.88)" fill="#0e5ed6" textLength="20.22" lengthAdjust="spacing">LOS</text>
<text x="676.48" y="186.9" fill="#0e5ed6" textLength="26.96" lengthAdjust="spacing">22.0</text>
<text x="716.92" y="186.9" fill="#c81e55" textLength="26.96" lengthAdjust="spacing">332°</text>
<text x="750.62" y="186.9" fill="#c81e4e" textLength="40.44" lengthAdjust="spacing">(337°)</text>
<text transform="translate(326 197.9) scale(1 0.88)" fill="#9010d0" textLength="47.18" lengthAdjust="spacing">WANN-LP</text>
<text x="400.14" y="197.9" fill="#9010d0" textLength="13.48" lengthAdjust="spacing">31</text>
<text x="521.46" y="197.9" fill="#9010d0" textLength="26.96" lengthAdjust="spacing">32.6</text>
<text x="575.38" y="197.9" fill="#9010d0" textLength="33.7" lengthAdjust="spacing">-46.2</text>
<text transform="translate(629.3 197.9) scale(1 0.88)" fill="#9010d0" textLength="20.22" lengthAdjust="spacing">LOS</text>
<text x="676.48" y="197.9" fill="#9010d0" textLength="26.96" lengthAdjust="spacing">23.8</text>
<text x="716.92" y="197.9" fill="#c81e48" textLength="26.96" lengthAdjust="spacing">342°</text>
<text x="750.62" y="197.9" fill="#ca1e40" textLength="40.44" lengthAdjust="spacing">(346°)</text>
<text transform="translate(326 208.9) scale(1 0.88)" fill="#9010d0" textLength="47.18" lengthAdjust="spacing">WTBS-LP</text>
<text x="400.14" y="208.9" fill="#9010d0" textLength="13.48" lengthAdjust="spacing">26</text>
<text x="521.46" y="208.9" fill="#9010d0" textLength="26.96" lengthAdjust="spacing">29.5</text>
<text x="575.38" y="208.9" fill="#9010d0" textLength="33.7" lengthAdjust="spacing">-49.3</text>
<text transform="translate(629.3 208.9) scale(1 0.88)" fill="#9010d0" textLength="20.22" lengthAdjust="spacing">LOS</text>
<text x="676.48" y="208.9" fill="#9010d0" textLength="26.96" lengthAdjust="spacing">21.9</text>
<text x="716.92" y="208.9" fill="#c81e55" textLength="26.96" lengthAdjust="spacing">332°</text>
<text x="750.62" y="208.9" fill="#c81e4e" textLength="40.44" lengthAdjust="spacing">(337°)</text>
<text transform="translate(326 219.9) scale(1 0.88)" fill="#0e5ed6" textLength="47.18" lengthAdjust="spacing">WIRE-CD</text>
<text x="400.14" y="219.9" fill="#0e5ed6" textLength="13.48" lengthAdjust="spacing">40</text>
<text x="521.46" y="219.9" fill="#0e5ed6" textLength="26.96" lengthAdjust="spacing">26.2</text>
<text x="575.38" y="219.9" fill="#0e5ed6" textLength="33.7" lengthAdjust="spacing">-64.7</text>
<text transform="translate(629.3 219.9) scale(1 0.88)" fill="#0e5ed6" textLength="20.22" lengthAdjust="spacing">LOS</text>
<text x="676.48" y="219.9" fill="#0e5ed6" textLength="26.96" lengthAdjust="spacing">20.3</text>
<text x="716.92" y="219.9" fill="#c81e51" textLength="26.96" lengthAdjust="spacing">335°</text>
<text x="750.62" y="219.9" fill="#c81e4c" textLength="40.44" lengthAdjust="spacing">(339°)</text>
<text transform="translate(326 230.9) scale(1 0.88)" fill="#0e5ed6" textLength="47.18" lengthAdjust="spacing">WDWW-LP</text>
<text x="400.14" y="230.9" fill="#0e5ed6" textLength="13.48" lengthAdjust="spacing">28</text>
<text x="420.36" y="230.9" fill="#0e5ed6" textLength="40.44" lengthAdjust="spacing">(28.1)</text>
<text x="521.46" y="230.9" fill="#0e5ed6" textLength="26.96" lengthAdjust="spacing">25.9</text>
<text x="575.38" y="230.9" fill="#0e5ed6" textLength="33.7" lengthAdjust="spacing">-64.9</text>
<text transform="translate(622.56 230.9) scale(1 0.88)" fill="#0e5ed6" textLength="33.7" lengthAdjust="spacing">1Edge</text>
<text x="676.48" y="230.9" fill="#0e5ed6" textLength="26.96" lengthAdjust="spacing">23.8</text>
<text x="716.92" y="230.9" fill="#c81e48" textLength="26.96" lengthAdjust="spacing">342°</text>
<text x="750.62" y="230.9" fill="#ca1e3e" textLength="40.44" lengthAdjust="spacing">(347°)</text>
<text transform="translate(326 242.9) scale(1 0.88)" fill="#0e5ed6" textLength="47.18" lengthAdjust="spacing">WATC-DT</text>
<text x="400.14" y="242.9" fill="#0e5ed6" textLength="13.48" lengthAdjust="spacing">36</text>
<text transform="translate(474.28 242.9) scale(1 0.88)" fill="#0e5ed6" textLength="20.22" lengthAdjust="spacing">Ind</text>
<text x="521.46" y="242.9" fill="#0e5ed6" textLength="26.96" lengthAdjust="spacing">25.5</text>
<text x="575.38" y="242.9" fill="#0e5ed6" textLength="33.7" lengthAdjust="spacing">-65.4</text>
<text transform="translate(629.3 242.9) scale(1 0.88)" fill="#0e5ed6" textLength="20.22" lengthAdjust="spacing">LOS</text>
<text x="676.48" y="242.9" fill="#0e5ed6" textLength="26.96" lengthAdjust="spacing">20.4</text>
<text x="716.92" y="242.9" fill="#981ebe" textLength="26.96" lengthAdjust="spacing">293°</text>
<text x="750.62" y="242.9" fill="#a61ebc" textLength="40.44" lengthAdjust="spacing">(298°)</text>
<text transform="translate(326 253.9) scale(1 0.88)" fill="#0e5ed6" textLength="40.44" lengthAdjust="spacing">WSB-TV</text>
<text x="400.14" y="253.9" fill="#0e5ed6" textLength="13.48" lengthAdjust="spacing">17</text>
<text transform="translate(474.28 253.9) scale(1 0.88)" fill="#0e5ed6" textLength="20.22" lengthAdjust="spacing">ABC</text>
<text x="521.46" y="253.9" fill="#0e5ed6" textLength="26.96" lengthAdjust="spacing">23.9</text>
<text x="575.38" y="253.9" fill="#0e5ed6" textLength="33.7" lengthAdjust="spacing">-66.9</text>
<text transform="translate(629.3 253.9) scale(1 0.88)" fill="#0e5ed6" textLength="20.22" lengthAdjust="spacing">LOS</text>
<text x="676.48" y="253.9" fill="#0e5ed6" textLength="26.96" lengthAdjust="spacing">36.4</text>
<text x="716.92" y="253.9" fill="#5019ba" textLength="26.96" lengthAdjust="spacing">263°</text>
<text x="750.62" y="253.9" fill="#5a19ba" textLength="40.44" lengthAdjust="spacing">(268°)</text>
<text transform="translate(326 264.9) scale(1 0.88)" fill="#0e5ed6" textLength="47.18" lengthAdjust="spacing">WPXA-DT</text>
<text x="400.14" y="264.9" fill="#0e5ed6" textLength="13.48" lengthAdjust="spacing">51</text>
<text x="420.36" y="264.9" fill="#0e5ed6" textLength="40.44" lengthAdjust="spacing">(14.1)</text>
<text transform="translate(474.28 264.9) scale(1 0.88)" fill="#0e5ed6" textLength="20.22" lengthAdjust="spacing">ION</text>
<text x="521.46" y="264.9" fill="#0e5ed6" textLength="26.96" lengthAdjust="spacing">21.3</text>
<text x="575.38" y="264.9" fill="#0e5ed6" textLength="33.7" lengthAdjust="spacing">-69.6</text>
<text transform="translate(622.56 264.9) scale(1 0.88)" fill="#0e5ed6" textLength="33.7" lengthAdjust="spacing">2Edge</text>
<text x="676.48" y="264.9" fill="#0e5ed6" textLength="26.96" lengthAdjust="spacing">62.8</text>
<text x="716.92" y="264.9" fill="#c81e50" textLength="26.96" lengthAdjust="spacing">336°</text>
<text x="750.62" y="264.9" fill="#c81e49" textLength="40.44" lengthAdjust="spacing">(341°)</text>
<text transform="translate(326 275.9) scale(1 0.88)" fill="#0e5ed6" textLength="47.18" lengthAdjust="spacing">WATC-DT</text>
<text x="400.14" y="275.9" fill="#0e5ed6" textLength="13.48" lengthAdjust="spacing">41</text>
<text x="420.36" y="275.9" fill="#0e5ed6" textLength="40.44" lengthAdjust="spacing">(57.1)</text>
<text transform="translate(474.28 275.9) scale(1 0.88)" fill="#0e5ed6" textLength="20.22" lengthAdjust="spacing">Ind</text>
<text x="521.46" y="275.9" fill="#0e5ed6" textLength="26.96" lengthAdjust="spacing">20.6</text>
<text x="575.38" y="275.9" fill="#0e5ed6" textLength="33.7" lengthAdjust="spacing">-70.2</text>
<text transform="translate(622.56 275.9) scale(1 0.88)" fill="#0e5ed6" textLength="33.7" lengthAdjust="spacing">1Edge</text>
<text x="676.48" y="275.9" fill="#0e5ed6" textLength="26.96" lengthAdjust="spacing">42.9</text>
<text x="716.92" y="275.9" fill="#c81e49" textLength="26.96" lengthAdjust="spacing">341°</text>
<text x="750.62" y="275.9" fill="#ca1e40" textLength="40.44" lengthAdjust="spacing">(346°)</text>
<text transform="translate(326 286.9) scale(1 0.88)" fill="#0e5ed6" textLength="47.18" lengthAdjust="spacing">WUVG-DT</text>
<text x="400.14" y="286.9" fill="#0e5ed6" textLength="13.48" lengthAdjust="spacing">17</text>
<text transform="translate(474.28 286.9) scale(1 0.88)" fill="#0e5ed6" textLength="20.22" lengthAdjust="spacing">Uni</text>
<text x="521.46" y="286.9" fill="#0e5ed6" textLength="26.96" lengthAdjust="spacing">20.3</text>
<text x="575.38" y="286.9" fill="#0e5ed6" textLength="33.7" lengthAdjust="spacing">-70.6</text>
<text transform="translate(629.3 286.9) scale(1 0.88)" fill="#0e5ed6" textLength="20.22" lengthAdjust="spacing">LOS</text>
<text x="676.48" y="286.9" fill="#0e5ed6" textLength="26.96" lengthAdjust="spacing">48.9</text>
<text x="723.66" y="286.9" fill="#d23e1c" textLength="20.22" lengthAdjust="spacing">24°</text>
<text x="757.36" y="286.9" fill="#d4521e" textLength="33.7" lengthAdjust="spacing">(29°)</text>
<text transform="translate(326 297.9) scale(1 0.88)" fill="#0e5ed6" textLength="47.18" lengthAdjust="spacing">WYGA-LD</text>
<text x="400.14" y="297.9" fill="#0e5ed6" textLength="13.48" lengthAdjust="spacing">18</text>
<text x="521.46" y="297.9" fill="#0e5ed6" textLength="26.96" lengthAdjust="spacing">20.0</text>
<text x="575.38" y="297.9" fill="#0e5ed6" textLength="33.7" lengthAdjust="spacing">-70.8</text>
<text transform="translate(629.3 297.9) scale(1 0.88)" fill="#0e5ed6" textLength="20.22" lengthAdjust="spacing">LOS</text>
<text x="676.48" y="297.9" fill="#0e5ed6" textLength="26.96" lengthAdjust="spacing">20.3</text>
<text x="716.92" y="297.9" fill="#c81e51" textLength="26.96" lengthAdjust="spacing">335°</text>
<text x="750.62" y="297.9" fill="#c81e4c" textLength="40.44" lengthAdjust="spacing">(339°)</text>
<text transform="translate(326 309.9) scale(1 0.88)" fill="#0e5ed6" textLength="47.18" lengthAdjust="spacing">WANN-CD</text>
<text x="400.14" y="309.9" fill="#0e5ed6" textLength="13.48" lengthAdjust="spacing">50</text>
<text x="521.46" y="309.9" fill="#0e5ed6" textLength="26.96" lengthAdjust="spacing">18.6</text>
<text x="575.38" y="309.9" fill="#0e5ed6" textLength="33.7" lengthAdjust="spacing">-72.2</text>
<text transform="translate(629.3 309.9) scale(1 0.88)" fill="#0e5ed6" textLength="20.22" lengthAdjust="spacing">LOS</text>
<text x="676.48" y="309.9" fill="#0e5ed6" textLength="26.96" lengthAdjust="spacing">23.8</text>
<text x="716.92" y="309.9" fill="#c81e48" textLength="26.96" lengthAdjust="spacing">342°</text>
<text x="750.62" y="309.9" fill="#ca1e40" textLength="40.44" lengthAdjust="spacing">(346°)</text>
<text transform="translate(326 320.9) scale(1 0.88)" fill="#0e5ed6" textLength="47.18" lengthAdjust="spacing">WKTB-CD</text>
<text x="400.14" y="320.9" fill="#0e5ed6" textLength="13.48" lengthAdjust="spacing">47</text>
<text x="521.46" y="320.9" fill="#0e5ed6" textLength="26.96" lengthAdjust="spacing">11.8</text>
<text x="575.38" y="320.9" fill="#0e5ed6" textLength="33.7" lengthAdjust="spacing">-79.1</text>
<text transform="translate(622.56 320.9) scale(1 0.88)" fill="#0e5ed6" textLength="33.7" lengthAdjust="spacing">1Edge</text>
<text x="676.48" y="320.9" fill="#0e5ed6" textLength="26.96" lengthAdjust="spacing">30.2</text>
<text x="730.4" y="320.9" fill="#cc1e2b" textLength="13.48" lengthAdjust="spacing">1°</text>
<text x="764.1" y="320.9" fill="#cd2223" textLength="26.96" lengthAdjust="spacing">(6°)</text>
<text transform="translate(326 331.9) scale(1 0.88)" fill="#0e5ed6" textLength="47.18" lengthAdjust="spacing">WJSP-DT</text>
<text x="400.14" y="331.9" fill="#0e5ed6" textLength="13.48" lengthAdjust="spacing">23</text>
<text x="420.36" y="331.9" fill="#0e5ed6" textLength="40.44" lengthAdjust="spacing">(28.1)</text>
<text transform="translate(474.28 331.9) scale(1 0.88)" fill="#0e5ed6" textLength="20.22" lengthAdjust="spacing">PBS</text>
<text x="528.2" y="331.9" fill="#0e5ed6" textLength="20.22" lengthAdjust="spacing">9.6</text>
<text x="575.38" y="331.9" fill="#0e5ed6" textLength="33.7" lengthAdjust="spacing">-81.2</text>
<text transform="translate(622.56 331.9) scale(1 0.88)" fill="#0e5ed6" textLength="33.7" lengthAdjust="spacing">1Edge</text>
<text x="676.48" y="331.9" fill="#0e5ed6" textLength="26.96" lengthAdjust="spacing">51.7</text>
<text x="716.92" y="331.9" fill="#1a56be" textLength="26.96" lengthAdjust="spacing">214°</text>
<text x="750.62" y="331.9" fill="#1c50be" textLength="40.44" lengthAdjust="spacing">(218°)</text>
<text transform="translate(326 342.9) scale(1 0.88)" fill="#0e5ed6" textLength="47.18" lengthAdjust="spacing">WUGA-TV</text>
<text x="400.14" y="342.9" fill="#0e5ed6" textLength="13.48" lengthAdjust="spacing">24</text>
<text x="528.2" y="342.9" fill="#0e5ed6" textLength="20.22" lengthAdjust="spacing">6.6</text>
<text x="575.38" y="342.9" fill="#0e5ed6" textLength="33.7" lengthAdjust="spacing">-84.2</text>
<text transform="translate(622.56 342.9) scale(1 0.88)" fill="#0e5ed6" textLength="33.7" lengthAdjust="spacing">1Edge</text>
<text x="676.48" y="342.9" fill="#0e5ed6" textLength="26.96" lengthAdjust="spacing">60.3</text>
<text x="723.66" y="342.9" fill="#d06228" textLength="20.22" lengthAdjust="spacing">33°</text>
<text x="757.36" y="342.9" fill="#d0702c" textLength="33.7" lengthAdjust="spacing">(38°)</text>
<text transform="translate(326 353.9) scale(1 0.88)" fill="#0e5ed6" textLength="47.18" lengthAdjust="spacing">WMAZ-DT</text>
<text x="400.14" y="353.9" fill="#0e5ed6" textLength="13.48" lengthAdjust="spacing">13</text>
<text x="420.36" y="353.9" fill="#0e5ed6" textLength="40.44" lengthAdjust="spacing">(13.1)</text>
<text transform="translate(474.28 353.9) scale(1 0.88)" fill="#0e5ed6" textLength="20.22" lengthAdjust="spacing">CBS</text>
<text x="528.2" y="353.9" fill="#0e5ed6" textLength="20.22" lengthAdjust="spacing">5.7</text>
<text x="575.38" y="353.9" fill="#0e5ed6" textLength="33.7" lengthAdjust="spacing">-85.2</text>
<text transform="translate(622.56 353.9) scale(1 0.88)" fill="#0e5ed6" textLength="33.7" lengthAdjust="spacing">2Edge</text>
<text x="676.48" y="353.9" fill="#0e5ed6" textLength="26.96" lengthAdjust="spacing">62.7</text>
<text x="716.92" y="353.9" fill="#148042" textLength="26.96" lengthAdjust="spacing">143°</text>
<text x="750.62" y="353.9" fill="#148044" textLength="40.44" lengthAdjust="spacing">(147°)</text>
<text transform="translate(326 364.9) scale(1 0.88)" fill="#0e5ed6" textLength="47.18" lengthAdjust="spacing">W45DX-D</text>
<text x="400.14" y="364.9" fill="#0e5ed6" textLength="13.48" lengthAdjust="spacing">45</text>
<text x="528.2" y="364.9" fill="#0e5ed6" textLength="20.22" lengthAdjust="spacing">4.5</text>
<text x="575.38" y="364.9" fill="#0e5ed6" textLength="33.7" lengthAdjust="spacing">-86.4</text>
<text transform="translate(622.56 364.9) scale(1 0.88)" fill="#0e5ed6" textLength="33.7" lengthAdjust="spacing">1Edge</text>
<text x="676.48" y="364.9" fill="#0e5ed6" textLength="26.96" lengthAdjust="spacing">23.8</text>
<text x="716.92" y="364.9" fill="#c81e48" textLength="26.96" lengthAdjust="spacing">342°</text>
<text x="750.62" y="364.9" fill="#ca1e40" textLength="40.44" lengthAdjust="spacing">(346°)</text>
<text transform="translate(326 376.9) scale(1 0.88)" fill="#0e5ed6" textLength="47.18" lengthAdjust="spacing">WPGA-TV</text>
<text x="400.14" y="376.9" fill="#0e5ed6" textLength="13.48" lengthAdjust="spacing">32</text>
<text transform="translate(474.28 376.9) scale(1 0.88)" fill="#0e5ed6" textLength="20.22" lengthAdjust="spacing">ABC</text>
<text x="528.2" y="376.9" fill="#0e5ed6" textLength="20.22" lengthAdjust="spacing">4.3</text>
<text x="575.38" y="376.9" fill="#0e5ed6" textLength="33.7" lengthAdjust="spacing">-86.5</text>
<text transform="translate(622.56 376.9) scale(1 0.88)" fill="#0e5ed6" textLength="33.7" lengthAdjust="spacing">2Edge</text>
<text x="676.48" y="376.9" fill="#0e5ed6" textLength="26.96" lengthAdjust="spacing">62.8</text>
<text x="716.92" y="376.9" fill="#148042" textLength="26.96" lengthAdjust="spacing">143°</text>
<text x="750.62" y="376.9" fill="#148044" textLength="40.44" lengthAdjust="spacing">(147°)</text>
<text transform="translate(326 387.9) scale(1 0.88)" fill="#0e5ed6" textLength="47.18" lengthAdjust="spacing">WGXA-DT</text>
<text x="400.14" y="387.9" fill="#0e5ed6" textLength="13.48" lengthAdjust="spacing">16</text>
<text x="420.36" y="387.9" fill="#0e5ed6" textLength="40.44" lengthAdjust="spacing">(24.1)</text>
<text transform="translate(474.28 387.9) scale(1 0.88)" fill="#0e5ed6" textLength="20.22" lengthAdjust="spacing">Fox</text>
<text x="528.2" y="387.9" fill="#0e5ed6" textLength="20.22" lengthAdjust="spacing">3.4</text>
<text x="575.38" y="387.9" fill="#0e5ed6" textLength="33.7" lengthAdjust="spacing">-87.4</text>
<text transform="translate(622.56 387.9) scale(1 0.88)" fill="#0e5ed6" textLength="33.7" lengthAdjust="spacing">2Edge</text>
<text x="676.48" y="387.9" fill="#0e5ed6" textLength="26.96" lengthAdjust="spacing">62.8</text>
<text x="716.92" y="387.9" fill="#148042" textLength="26.96" lengthAdjust="spacing">143°</text>
<text x="750.62" y="387.9" fill="#148045" textLength="40.44" lengthAdjust="spacing">(148°)</text>
<text transform="translate(326 398.9) scale(1 0.88)" fill="#0e5ed6" textLength="47.18" lengthAdjust="spacing">WGNM-DT</text>
<text x="400.14" y="398.9" fill="#0e5ed6" textLength="13.48" lengthAdjust="spacing">45</text>
<text x="420.36" y="398.9" fill="#0e5ed6" textLength="40.44" lengthAdjust="spacing">(64.1)</text>
<text transform="translate(474.28 398.9) scale(1 0.88)" fill="#0e5ed6" textLength="20.22" lengthAdjust="spacing">Ind</text>
<text x="528.2" y="398.9" fill="#0e5ed6" textLength="20.22" lengthAdjust="spacing">3.4</text>
<text x="575.38" y="398.9" fill="#0e5ed6" textLength="33.7" lengthAdjust="spacing">-87.4</text>
<text transform="translate(622.56 398.9) scale(1 0.88)" fill="#0e5ed6" textLength="33.7" lengthAdjust="spacing">2Edge</text>
<text x="676.48" y="398.9" fill="#0e5ed6" textLength="26.96" lengthAdjust="spacing">62.1</text>
<text x="716.92" y="398.9" fill="#148041" textLength="26.96" lengthAdjust="spacing">142°</text>
<text x="750.62" y="398.9" fill="#148044" textLength="40.44" lengthAdjust="spacing">(147°)</text>
<text transform="translate(326 409.9) scale(1 0.88)" fill="#0e5ed6" textLength="26.96" lengthAdjust="spacing">WCIQ</text>
<text x="406.88" y="409.9" fill="#0e5ed6" textLength="6.74" lengthAdjust="spacing">7</text>
<text transform="translate(474.28 409.9) scale(1 0.88)" fill="#0e5ed6" textLength="20.22" lengthAdjust="spacing">PBS</text>
<text x="528.2" y="409.9" fill="#0e5ed6" textLength="20.22" lengthAdjust="spacing">0.6</text>
<text x="575.38" y="409.9" fill="#0e5ed6" textLength="33.7" lengthAdjust="spacing">-90.2</text>
<text transform="translate(622.56 409.9) scale(1 0.88)" fill="#0e5ed6" textLength="33.7" lengthAdjust="spacing">2Edge</text>
<text x="676.48" y="409.9" fill="#0e5ed6" textLength="26.96" lengthAdjust="spacing">92.3</text>
<text x="716.92" y="409.9" fill="#621cb6" textLength="26.96" lengthAdjust="spacing">271°</text>
<text x="750.62" y="409.9" fill="#691db5" textLength="40.44" lengthAdjust="spacing">(275°)</text>
<text transform="translate(326 420.9) scale(1 0.88)" fill="#0e5ed6" textLength="47.18" lengthAdjust="spacing">WSKC-CD</text>
<text x="400.14" y="420.9" fill="#0e5ed6" textLength="13.48" lengthAdjust="spacing">22</text>
<text x="521.46" y="420.9" fill="#0e5ed6" textLength="26.96" lengthAdjust="spacing">-0.5</text>
<text x="575.38" y="420.9" fill="#0e5ed6" textLength="33.7" lengthAdjust="spacing">-91.4</text>
<text transform="translate(622.56 420.9) scale(1 0.88)" fill="#0e5ed6" textLength="33.7" lengthAdjust="spacing">2Edge</text>
<text x="676.48" y="420.9" fill="#0e5ed6" textLength="26.96" lengthAdjust="spacing">34.5</text>
<text x="730.4" y="420.9" fill="#cd2024" textLength="13.48" lengthAdjust="spacing">5°</text>
<text x="757.36" y="420.9" fill="#ce2820" textLength="33.7" lengthAdjust="spacing">(10°)</text>
<text transform="translate(326 431.9) scale(1 0.88)" fill="#9010d0" textLength="47.18" lengthAdjust="spacing">WUVM-LP</text>
<text x="406.88" y="431.9" fill="#9010d0" textLength="6.74" lengthAdjust="spacing">4</text>
<text x="521.46" y="431.9" fill="#9010d0" textLength="26.96" lengthAdjust="spacing">-0.6</text>
<text x="575.38" y="431.9" fill="#9010d0" textLength="33.7" lengthAdjust="spacing">-79.5</text>
<text transform="translate(622.56 431.9) scale(1 0.88)" fill="#9010d0" textLength="33.7" lengthAdjust="spacing">1Edge</text>
<text x="676.48" y="431.9" fill="#9010d0" textLength="26.96" lengthAdjust="spacing">23.8</text>
<text x="716.92" y="431.9" fill="#c81e48" textLength="26.96" lengthAdjust="spacing">342°</text>
<text x="750.62" y="431.9" fill="#ca1e40" textLength="40.44" lengthAdjust="spacing">(346°)</text>
<text transform="translate(326 443.9) scale(1 0.88)" fill="#0e5ed6" textLength="40.44" lengthAdjust="spacing">WSB-TV</text>
<text x="400.14" y="443.9" fill="#0e5ed6" textLength="13.48" lengthAdjust="spacing">31</text>
<text transform="translate(474.28 443.9) scale(1 0.88)" fill="#0e5ed6" textLength="20.22" lengthAdjust="spacing">ABC</text>
<text x="521.46" y="443.9" fill="#0e5ed6" textLength="26.96" lengthAdjust="spacing">-4.1</text>
<text x="575.38" y="443.9" fill="#0e5ed6" textLength="33.7" lengthAdjust="spacing">-95.0</text>
<text transform="translate(622.56 443.9) scale(1 0.88)" fill="#0e5ed6" textLength="33.7" lengthAdjust="spacing">1Edge</text>
<text x="676.48" y="443.9" fill="#0e5ed6" textLength="26.96" lengthAdjust="spacing">39.7</text>
<text x="723.66" y="443.9" fill="#d0702c" textLength="20.22" lengthAdjust="spacing">38°</text>
<text x="757.36" y="443.9" fill="#ce7c2c" textLength="33.7" lengthAdjust="spacing">(43°)</text>
<text transform="translate(326 454.9) scale(1 0.88)" fill="#0e5ed6" textLength="26.96" lengthAdjust="spacing">WTVM</text>
<text x="400.14" y="454.9" fill="#0e5ed6" textLength="13.48" lengthAdjust="spacing">11</text>
<text x="427.1" y="454.9" fill="#0e5ed6" textLength="33.7" lengthAdjust="spacing">(9.1)</text>
<text transform="translate(474.28 454.9) scale(1 0.88)" fill="#0e5ed6" textLength="20.22" lengthAdjust="spacing">ABC</text>
<text x="521.46" y="454.9" fill="#0e5ed6" textLength="26.96" lengthAdjust="spacing">-5.4</text>
<text x="575.38" y="454.9" fill="#0e5ed6" textLength="33.7" lengthAdjust="spacing">-96.3</text>
<text transform="translate(622.56 454.9) scale(1 0.88)" fill="#0e5ed6" textLength="33.7" lengthAdjust="spacing">2Edge</text>
<text x="676.48" y="454.9" fill="#0e5ed6" textLength="26.96" lengthAdjust="spacing">86.2</text>
<text x="716.92" y="454.9" fill="#1a64c0" textLength="26.96" lengthAdjust="spacing">203°</text>
<text x="750.62" y="454.9" fill="#1a61c0" textLength="40.44" lengthAdjust="spacing">(207°)</text>
<text transform="translate(326 465.9) scale(1 0.88)" fill="#9010d0" textLength="47.18" lengthAdjust="spacing">WDWW-LP</text>
<text x="400.14" y="465.9" fill="#9010d0" textLength="13.48" lengthAdjust="spacing">28</text>
<text x="521.46" y="465.9" fill="#9010d0" textLength="26.96" lengthAdjust="spacing">-6.0</text>
<text x="575.38" y="465.9" fill="#9010d0" textLength="33.7" lengthAdjust="spacing">-84.9</text>
<text transform="translate(622.56 465.9) scale(1 0.88)" fill="#9010d0" textLength="33.7" lengthAdjust="spacing">2Edge</text>
<text x="676.48" y="465.9" fill="#9010d0" textLength="26.96" lengthAdjust="spacing">74.6</text>
<text x="723.66" y="465.9" fill="#d02e1e" textLength="20.22" lengthAdjust="spacing">18°</text>
<text x="757.36" y="465.9" fill="#d23b1c" textLength="33.7" lengthAdjust="spacing">(23°)</text>
<text transform="translate(326 476.9) scale(1 0.88)" fill="#0e5ed6" textLength="47.18" lengthAdjust="spacing">WMUM-DT</text>
<text x="406.88" y="476.9" fill="#0e5ed6" textLength="6.74" lengthAdjust="spacing">7</text>
<text x="420.36" y="476.9" fill="#0e5ed6" textLength="40.44" lengthAdjust="spacing">(29.1)</text>
<text transform="translate(474.28 476.9) scale(1 0.88)" fill="#0e5ed6" textLength="20.22" lengthAdjust="spacing">PBS</text>
<text x="521.46" y="476.9" fill="#0e5ed6" textLength="26.96" lengthAdjust="spacing">-6.2</text>
<text x="575.38" y="476.9" fill="#0e5ed6" textLength="33.7" lengthAdjust="spacing">-97.1</text>
<text transform="translate(622.56 476.9) scale(1 0.88)" fill="#0e5ed6" textLength="33.7" lengthAdjust="spacing">2Edge</text>
<text x="676.48" y="476.9" fill="#0e5ed6" textLength="26.96" lengthAdjust="spacing">89.0</text>
<text x="716.92" y="476.9" fill="#148040" textLength="26.96" lengthAdjust="spacing">141°</text>
<text x="750.62" y="476.9" fill="#148044" textLength="40.44" lengthAdjust="spacing">(146°)</text>
<text transform="translate(326 487.9) scale(1 0.88)" fill="#0e5ed6" textLength="47.18" lengthAdjust="spacing">WGGD-LP</text>
<text x="400.14" y="487.9" fill="#0e5ed6" textLength="13.48" lengthAdjust="spacing">15</text>
<text x="420.36" y="487.9" fill="#0e5ed6" textLength="40.44" lengthAdjust="spacing">(23.1)</text>
<text x="521.46" y="487.9" fill="#0e5ed6" textLength="26.96" lengthAdjust="spacing">-7.1</text>
<text x="575.38" y="487.9" fill="#0e5ed6" textLength="33.7" lengthAdjust="spacing">-98.0</text>
<text transform="translate(622.56 487.9) scale(1 0.88)" fill="#0e5ed6" textLength="33.7" lengthAdjust="spacing">1Edge</text>
<text x="676.48" y="487.9" fill="#0e5ed6" textLength="26.96" lengthAdjust="spacing">47.6</text>
<text x="723.66" y="487.9" fill="#d1331d" textLength="20.22" lengthAdjust="spacing">20°</text>
<text x="757.36" y="487.9" fill="#d23e1c" textLength="33.7" lengthAdjust="spacing">(24°)</text>
<text transform="translate(326 498.9) scale(1 0.88)" fill="#0e5ed6" textLength="40.44" lengthAdjust="spacing">WSB-TV</text>
<text x="400.14" y="498.9" fill="#0e5ed6" textLength="13.48" lengthAdjust="spacing">46</text>
<text transform="translate(474.28 498.9) scale(1 0.88)" fill="#0e5ed6" textLength="20.22" lengthAdjust="spacing">ABC</text>
<text x="521.46" y="498.9" fill="#0e5ed6" textLength="26.96" lengthAdjust="spacing">-7.4</text>
<text x="575.38" y="498.9" fill="#0e5ed6" textLength="33.7" lengthAdjust="spacing">-98.3</text>
<text transform="translate(622.56 498.9) scale(1 0.88)" fill="#0e5ed6" textLength="33.7" lengthAdjust="spacing">1Edge</text>
<text x="676.48" y="498.9" fill="#0e5ed6" textLength="26.96" lengthAdjust="spacing">48.9</text>
<text x="723.66" y="498.9" fill="#d23e1c" textLength="20.22" lengthAdjust="spacing">24°</text>
<text x="757.36" y="498.9" fill="#d4521e" textLength="33.7" lengthAdjust="spacing">(29°)</text>
<text transform="translate(326 510.9) scale(1 0.88)" fill="#0e5ed6" textLength="47.18" lengthAdjust="spacing">WRBL-DT</text>
<text x="400.14" y="510.9" fill="#0e5ed6" textLength="13.48" lengthAdjust="spacing">15</text>
<text x="427.1" y="510.9" fill="#0e5ed6" textLength="33.7" lengthAdjust="spacing">(3.1)</text>
<text transform="translate(474.28 510.9) scale(1 0.88)" fill="#0e5ed6" textLength="20.22" lengthAdjust="spacing">CBS</text>
<text x="521.46" y="510.9" fill="#0e5ed6" textLength="26.96" lengthAdjust="spacing">-7.8</text>
<text x="575.38" y="510.9" fill="#0e5ed6" textLength="33.7" lengthAdjust="spacing">-98.6</text>
<text transform="translate(622.56 510.9) scale(1 0.88)" fill="#0e5ed6" textLength="33.7" lengthAdjust="spacing">2Edge</text>
<text x="676.48" y="510.9" fill="#0e5ed6" textLength="26.96" lengthAdjust="spacing">86.7</text>
<text x="716.92" y="510.9" fill="#1a64c0" textLength="26.96" lengthAdjust="spacing">203°</text>
<text x="750.62" y="510.9" fill="#1a60c0" textLength="40.44" lengthAdjust="spacing">(208°)</text>
<text transform="translate(326 521.9) scale(1 0.88)" fill="#0e5ed6" textLength="47.18" lengthAdjust="spacing">WMGT-DT</text>
<text x="400.14" y="521.9" fill="#0e5ed6" textLength="13.48" lengthAdjust="spacing">40</text>
<text x="420.36" y="521.9" fill="#0e5ed6" textLength="40.44" lengthAdjust="spacing">(41.1)</text>
<text transform="translate(474.28 521.9) scale(1 0.88)" fill="#0e5ed6" textLength="20.22" lengthAdjust="spacing">NBC</text>
<text x="521.46" y="521.9" fill="#0e5ed6" textLength="26.96" lengthAdjust="spacing">-7.9</text>
<text x="575.38" y="521.9" fill="#0e5ed6" textLength="33.7" lengthAdjust="spacing">-98.8</text>
<text transform="translate(622.56 521.9) scale(1 0.88)" fill="#0e5ed6" textLength="33.7" lengthAdjust="spacing">2Edge</text>
<text x="676.48" y="521.9" fill="#0e5ed6" textLength="26.96" lengthAdjust="spacing">62.5</text>
<text x="716.92" y="521.9" fill="#148042" textLength="26.96" lengthAdjust="spacing">143°</text>
<text x="750.62" y="521.9" fill="#148045" textLength="40.44" lengthAdjust="spacing">(148°)</text>
<text transform="translate(326 532.9) scale(1 0.88)" fill="#0e5ed6" textLength="47.18" lengthAdjust="spacing">WDMA-CA</text>
<text x="400.14" y="532.9" fill="#0e5ed6" textLength="13.48" lengthAdjust="spacing">31</text>
<text x="420.36" y="532.9" fill="#0e5ed6" textLength="40.44" lengthAdjust="spacing">(31.1)</text>
<text x="521.46" y="532.9" fill="#0e5ed6" textLength="26.96" lengthAdjust="spacing">-9.8</text>
<text x="568.64" y="532.9" fill="#0e5ed6" textLength="40.44" lengthAdjust="spacing">-100.6</text>
<text transform="translate(622.56 532.9) scale(1 0.88)" fill="#0e5ed6" textLength="33.7" lengthAdjust="spacing">2Edge</text>
<text x="676.48" y="532.9" fill="#0e5ed6" textLength="26.96" lengthAdjust="spacing">53.9</text>
<text x="716.92" y="532.9" fill="#148042" textLength="26.96" lengthAdjust="spacing">144°</text>
<text x="750.62" y="532.9" fill="#148046" textLength="40.44" lengthAdjust="spacing">(149°)</text>
<text transform="translate(326 543.9) scale(1 0.88)" fill="#0e5ed6" textLength="26.96" lengthAdjust="spacing">WLGA</text>
<text x="400.14" y="543.9" fill="#0e5ed6" textLength="13.48" lengthAdjust="spacing">30</text>
<text x="420.36" y="543.9" fill="#0e5ed6" textLength="40.44" lengthAdjust="spacing">(66.1)</text>
<text transform="translate(481.02 543.9) scale(1 0.88)" fill="#0e5ed6" textLength="13.48" lengthAdjust="spacing">CW</text>
<text x="514.72" y="543.9" fill="#0e5ed6" textLength="33.7" lengthAdjust="spacing">-10.7</text>
<text x="568.64" y="543.9" fill="#0e5ed6" textLength="40.44" lengthAdjust="spacing">-101.6</text>
<text transform="translate(622.56 543.9) scale(1 0.88)" fill="#0e5ed6" textLength="33.7" lengthAdjust="spacing">2Edge</text>
<text x="676.48" y="543.9" fill="#0e5ed6" textLength="26.96" lengthAdjust="spacing">86.7</text>
<text x="716.92" y="543.9" fill="#1a64c0" textLength="26.96" lengthAdjust="spacing">203°</text>
<text x="750.62" y="543.9" fill="#1a60c0" textLength="40.44" lengthAdjust="spacing">(208°)</text>
<text transform="translate(326 554.9) scale(1 0.88)" fill="#9010d0" textLength="47.18" lengthAdjust="spacing">WGGD-LP</text>
<text x="400.14" y="554.9" fill="#9010d0" textLength="13.48" lengthAdjust="spacing">23</text>
<text x="514.72" y="554.9" fill="#9010d0" textLength="33.7" lengthAdjust="spacing">-10.9</text>
<text x="575.38" y="554.9" fill="#9010d0" textLength="33.7" lengthAdjust="spacing">-89.7</text>
<text transform="translate(622.56 554.9) scale(1 0.88)" fill="#9010d0" textLength="33.7" lengthAdjust="spacing">2Edge</text>
<text x="676.48" y="554.9" fill="#9010d0" textLength="26.96" lengthAdjust="spacing">74.6</text>
<text x="723.66" y="554.9" fill="#d02e1e" textLength="20.22" lengthAdjust="spacing">18°</text>
<text x="757.36" y="554.9" fill="#d23b1c" textLength="33.7" lengthAdjust="spacing">(23°)</text>
<text transform="translate(326 565.9) scale(1 0.88)" fill="#0e5ed6" textLength="47.18" lengthAdjust="spacing">WCES-DT</text>
<text x="406.88" y="565.9" fill="#0e5ed6" textLength="6.74" lengthAdjust="spacing">6</text>
<text x="420.36" y="565.9" fill="#0e5ed6" textLength="40.44" lengthAdjust="spacing">(20.1)</text>
<text transform="translate(474.28 565.9) scale(1 0.88)" fill="#0e5ed6" textLength="20.22" lengthAdjust="spacing">PBS</text>
<text x="514.72" y="565.9" fill="#0e5ed6" textLength="33.7" lengthAdjust="spacing">-11.5</text>
<text x="568.64" y="565.9" fill="#0e5ed6" textLength="40.44" lengthAdjust="spacing">-102.3</text>
<text transform="translate(622.56 565.9) scale(1 0.88)" fill="#0e5ed6" textLength="33.7" lengthAdjust="spacing">2Edge</text>
<text x="669.74" y="565.9" fill="#0e5ed6" textLength="33.7" lengthAdjust="spacing">112.3</text>
<text x="723.66" y="565.9" fill="#6c961e" textLength="20.22" lengthAdjust="spacing">97°</text>
<text x="750.62" y="565.9" fill="#5f9620" textLength="40.44" lengthAdjust="spacing">(102°)</text>
<text transform="translate(326 577.9) scale(1 0.88)" fill="#0e5ed6" textLength="47.18" lengthAdjust="spacing">W13DJ-D</text>
<text x="400.14" y="577.9" fill="#0e5ed6" textLength="13.48" lengthAdjust="spacing">13</text>
<text x="514.72" y="577.9" fill="#0e5ed6" textLength="33.7" lengthAdjust="spacing">-13.9</text>
<text x="568.64" y="577.9" fill="#0e5ed6" textLength="40.44" lengthAdjust="spacing">-104.7</text>
<text transform="translate(622.56 577.9) scale(1 0.88)" fill="#0e5ed6" textLength="33.7" lengthAdjust="spacing">2Edge</text>
<text x="676.48" y="577.9" fill="#0e5ed6" textLength="26.96" lengthAdjust="spacing">47.0</text>
<text x="716.92" y="577.9" fill="#6c1eb4" textLength="26.96" lengthAdjust="spacing">277°</text>
<text x="750.62" y="577.9" fill="#7a1eb6" textLength="40.44" lengthAdjust="spacing">(282°)</text>
<text transform="translate(326 588.9) scale(1 0.88)" fill="#0e5ed6" textLength="47.18" lengthAdjust="spacing">WRWR-LD</text>
<text x="400.14" y="588.9" fill="#0e5ed6" textLength="13.48" lengthAdjust="spacing">38</text>
<text x="514.72" y="588.9" fill="#0e5ed6" textLength="33.7" lengthAdjust="spacing">-13.9</text>
<text x="568.64" y="588.9" fill="#0e5ed6" textLength="40.44" lengthAdjust="spacing">-104.8</text>
<text transform="translate(622.56 588.9) scale(1 0.88)" fill="#0e5ed6" textLength="33.7" lengthAdjust="spacing">2Edge</text>
<text x="676.48" y="588.9" fill="#0e5ed6" textLength="26.96" lengthAdjust="spacing">62.1</text>
<text x="716.92" y="588.9" fill="#148041" textLength="26.96" lengthAdjust="spacing">142°</text>
<text x="750.62" y="588.9" fill="#148044" textLength="40.44" lengthAdjust="spacing">(147°)</text>
<text transform="translate(326 599.9) scale(1 0.88)" fill="#0e5ed6" textLength="47.18" lengthAdjust="spacing">WNGH-DT</text>
<text x="400.14" y="599.9" fill="#0e5ed6" textLength="13.48" lengthAdjust="spacing">33</text>
<text x="420.36" y="599.9" fill="#0e5ed6" textLength="40.44" lengthAdjust="spacing">(18.1)</text>
<text transform="translate(474.28 599.9) scale(1 0.88)" fill="#0e5ed6" textLength="20.22" lengthAdjust="spacing">PBS</text>
<text x="514.72" y="599.9" fill="#0e5ed6" textLength="33.7" lengthAdjust="spacing">-17.1</text>
<text x="568.64" y="599.9" fill="#0e5ed6" textLength="40.44" lengthAdjust="spacing">-107.9</text>
<text transform="translate(622.56 599.9) scale(1 0.88)" fill="#0e5ed6" textLength="33.7" lengthAdjust="spacing">2Edge</text>
<text x="676.48" y="599.9" fill="#0e5ed6" textLength="26.96" lengthAdjust="spacing">92.4</text>
<text x="716.92" y="599.9" fill="#c81e48" textLength="26.96" lengthAdjust="spacing">342°</text>
<text x="750.62" y="599.9" fill="#ca1e3e" textLength="40.44" lengthAdjust="spacing">(347°)</text>
</g>
<rect x="39" y="634" width="10" height="126" fill="#e6e6e6"/>
<rect x="70" y="634" width="31" height="126" fill="#e6e6e6"/>
<g stroke="#585858" stroke-width="1" stroke-dasharray="1 1" shape-rendering="crispEdges">
<line x1="9" y1="645.5" x2="172.5" y2="645.5"/>
<line x1="216" y1="645.5" x2="792" y2="645.5"/>
<line x1="9" y1="657.5" x2="172.5" y2="657.5"/>
<line x1="216" y1="657.5" x2="792" y2="657.5"/>
<line x1="9" y1="670.5" x2="172.5" y2="670.5"/>
<line x1="216" y1="670.5" x2="792" y2="670.5"/>
<line x1="9" y1="683.5" x2="172.5" y2="683.5"/>
<line x1="216" y1="683.5" x2="792" y2="683.5"/>
<line x1="9" y1="696.5" x2="172.5" y2="696.5"/>
<line x1="216" y1="696.5" x2="792" y2="696.5"/>
<line x1="9" y1="708.5" x2="172.5" y2="708.5"/>
<line x1="216" y1="708.5" x2="792" y2="708.5"/>
<line x1="9" y1="721.5" x2="172.5" y2="721.5"/>
<line x1="216" y1="721.5" x2="792" y2="721.5"/>
<line x1="9" y1="734.5" x2="172.5" y2="734.5"/>
<line x1="216" y1="734.5" x2="792" y2="734.5"/>
<line x1="9" y1="747.5" x2="172.5" y2="747.5"/>
<line x1="216" y1="747.5" x2="792" y2="747.5"/>
</g>
<g fill="none" stroke="#000" stroke-width="1.6">
<path d="M13 632.6H7.6V761.1"/>
<path d="M65 632.6H111"/>
<path d="M163 632.6H173.4V761.1"/>
<path d="M473.5 632.6H214.6V761.1"/>
<path d="M524 632.6H792.6V760.2"/>
</g>
<rect x="6.5" y="759.4" width="3.95" height="1.7" fill="#000"/>
<rect x="16.75" y="759.4" width="14.3" height="1.7" fill="#000"/>
<rect x="37.35" y="759.4" width="15.1" height="1.7" fill="#000"/>
<rect x="58.75" y="759.4" width="4" height="1.7" fill="#000"/>
<rect x="69.05" y="759.4" width="34.4" height="1.7" fill="#000"/>
<rect x="109.75" y="759.4" width="14.3" height="1.7" fill="#000"/>
<rect x="130.35" y="759.4" width="12.35" height="1.7" fill="#000"/>
<rect x="152.9" y="759.4" width="10.4" height="1.7" fill="#000"/>
<rect x="173.5" y="759.4" width="1" height="1.7" fill="#000"/>
<text x="13.6" y="762.2" font-size="7.2" text-anchor="middle" font-family='"Liberation Sans", Arial, sans-serif' fill="#000">2</text>
<text x="34.2" y="762.2" font-size="7.2" text-anchor="middle" font-family='"Liberation Sans", Arial, sans-serif' fill="#000">4</text>
<text x="55.6" y="762.2" font-size="7.2" text-anchor="middle" font-family='"Liberation Sans", Arial, sans-serif' fill="#000">5</text>
<text x="65.9" y="762.2" font-size="7.2" text-anchor="middle" font-family='"Liberation Sans", Arial, sans-serif' fill="#000">6</text>
<text x="106.6" y="762.2" font-size="7.2" text-anchor="middle" font-family='"Liberation Sans", Arial, sans-serif' fill="#000">7</text>
<text x="127.2" y="762.2" font-size="7.2" text-anchor="middle" font-family='"Liberation Sans", Arial, sans-serif' fill="#000">9</text>
<text x="147.8" y="762.2" font-size="7.2" text-anchor="middle" font-family='"Liberation Sans", Arial, sans-serif' fill="#000">11</text>
<text x="168.4" y="762.2" font-size="7.2" text-anchor="middle" font-family='"Liberation Sans", Arial, sans-serif' fill="#000">13</text>
<rect x="213.5" y="759.4" width="1.5" height="1.7" fill="#000"/>
<rect x="225.2" y="759.4" width="10.4" height="1.7" fill="#000"/>
<rect x="245.8" y="759.4" width="20.7" height="1.7" fill="#000"/>
<rect x="276.7" y="759.4" width="20.7" height="1.7" fill="#000"/>
<rect x="307.6" y="759.4" width="20.7" height="1.7" fill="#000"/>
<rect x="338.5" y="759.4" width="20.7" height="1.7" fill="#000"/>
<rect x="369.4" y="759.4" width="20.7" height="1.7" fill="#000"/>
<rect x="400.3" y="759.4" width="20.7" height="1.7" fill="#000"/>
<rect x="431.2" y="759.4" width="20.7" height="1.7" fill="#000"/>
<rect x="462.1" y="759.4" width="20.7" height="1.7" fill="#000"/>
<rect x="493" y="759.4" width="20.7" height="1.7" fill="#000"/>
<rect x="523.9" y="759.4" width="20.7" height="1.7" fill="#000"/>
<rect x="554.8" y="759.4" width="20.7" height="1.7" fill="#000"/>
<rect x="585.7" y="759.4" width="20.7" height="1.7" fill="#000"/>
<rect x="616.6" y="759.4" width="20.7" height="1.7" fill="#000"/>
<rect x="647.5" y="759.4" width="20.7" height="1.7" fill="#000"/>
<rect x="678.4" y="759.4" width="20.7" height="1.7" fill="#000"/>
<rect x="709.3" y="759.4" width="20.7" height="1.7" fill="#000"/>
<rect x="740.2" y="759.4" width="20.7" height="1.7" fill="#000"/>
<rect x="771.1" y="759.4" width="10.4" height="1.7" fill="#000"/>
<text x="220.1" y="762.2" font-size="7.2" text-anchor="middle" font-family='"Liberation Sans", Arial, sans-serif' fill="#000">14</text>
<text x="240.7" y="762.2" font-size="7.2" text-anchor="middle" font-family='"Liberation Sans", Arial, sans-serif' fill="#000">16</text>
<text x="271.6" y="762.2" font-size="7.2" text-anchor="middle" font-family='"Liberation Sans", Arial, sans-serif' fill="#000">19</text>
<text x="302.5" y="762.2" font-size="7.2" text-anchor="middle" font-family='"Liberation Sans", Arial, sans-serif' fill="#000">22</text>
<text x="333.4" y="762.2" font-size="7.2" text-anchor="middle" font-family='"Liberation Sans", Arial, sans-serif' fill="#000">25</text>
<text x="364.3" y="762.2" font-size="7.2" text-anchor="middle" font-family='"Liberation Sans", Arial, sans-serif' fill="#000">28</text>
<text x="395.2" y="762.2" font-size="7.2" text-anchor="middle" font-family='"Liberation Sans", Arial, sans-serif' fill="#000">31</text>
<text x="426.1" y="762.2" font-size="7.2" text-anchor="middle" font-family='"Liberation Sans", Arial, sans-serif' fill="#000">34</text>
<text x="457" y="762.2" font-size="7.2" text-anchor="middle" font-family='"Liberation Sans", Arial, sans-serif' fill="#000">37</text>
<text x="487.9" y="762.2" font-size="7.2" text-anchor="middle" font-family='"Liberation Sans", Arial, sans-serif' fill="#000">40</text>
<text x="518.8" y="762.2" font-size="7.2" text-anchor="middle" font-family='"Liberation Sans", Arial, sans-serif' fill="#000">43</text>
<text x="549.7" y="762.2" font-size="7.2" text-anchor="middle" font-family='"Liberation Sans", Arial, sans-serif' fill="#000">46</text>
<text x="580.6" y="762.2" font-size="7.2" text-anchor="middle" font-family='"Liberation Sans", Arial, sans-serif' fill="#000">49</text>
<text x="611.5" y="762.2" font-size="7.2" text-anchor="middle" font-family='"Liberation Sans", Arial, sans-serif' fill="#000">52</text>
<text x="642.4" y="762.2" font-size="7.2" text-anchor="middle" font-family='"Liberation Sans", Arial, sans-serif' fill="#000">55</text>
<text x="673.3" y="762.2" font-size="7.2" text-anchor="middle" font-family='"Liberation Sans", Arial, sans-serif' fill="#000">58</text>
<text x="704.2" y="762.2" font-size="7.2" text-anchor="middle" font-family='"Liberation Sans", Arial, sans-serif' fill="#000">61</text>
<text x="735.1" y="762.2" font-size="7.2" text-anchor="middle" font-family='"Liberation Sans", Arial, sans-serif' fill="#000">64</text>
<text x="766" y="762.2" font-size="7.2" text-anchor="middle" font-family='"Liberation Sans", Arial, sans-serif' fill="#000">67</text>
<text x="786.6" y="762.2" font-size="7.2" text-anchor="middle" font-family='"Liberation Sans", Arial, sans-serif' fill="#000">69</text>
<g font-family='"Liberation Sans", Arial, sans-serif' font-size="11" font-weight="bold" fill="#000">
<rect x="16" y="626" width="46" height="11" fill="#fff"/>
<text x="20" y="636">VHF Lo</text>
<text x="119.4" y="636">VHF Hi</text>
<text x="492" y="636">UHF</text>
</g>
<g font-family='"Liberation Sans", Arial, sans-serif' font-size="10.8" fill="#000">
<text x="183" y="636">dBm</text>
<text x="202" y="648.16" text-anchor="end">-10</text>
<text x="202" y="660.92" text-anchor="end">-20</text>
<text x="202" y="673.68" text-anchor="end">-30</text>
<text x="202" y="686.44" text-anchor="end">-40</text>
<text x="202" y="699.2" text-anchor="end">-50</text>
<text x="202" y="711.96" text-anchor="end">-60</text>
<text x="202" y="724.72" text-anchor="end">-70</text>
<text x="202" y="737.48" text-anchor="end">-80</text>
<text x="202" y="750.24" text-anchor="end">-90</text>
<text x="177" y="762.6" font-size="9.2">Channel</text>
</g>
<rect x="346.6" y="617.4" width="6.8" height="11.4" fill="#c00000"/>
<text x="350" y="626.7" font-family='"Liberation Sans", Arial, sans-serif' font-size="10.5" text-anchor="middle" fill="#fff">C</text>
<text x="360.6" y="628" font-family='"DejaVu Sans", "Liberation Sans", sans-serif' font-size="11.15" fill="#000">= Co-channel warning</text>
<rect x="557.6" y="617.4" width="6.8" height="11.4" fill="#ff8080"/>
<text x="561" y="626.5" font-family='"Liberation Sans", Arial, sans-serif' font-size="11" text-anchor="middle" fill="#fff">a</text>
<text x="571.6" y="628" font-family='"DejaVu Sans", "Liberation Sans", sans-serif' font-size="11.15" fill="#000">= Adjacent channel warning</text>
<g font-family='"Liberation Sans", Arial, sans-serif' font-size="10.4" stroke-width="0">
<g>
<rect x="266.3" y="667.7" width="9.4" height="3.4" rx="1" fill="#003c9c"/>
<rect x="266.8" y="668.3" width="8.4" height="2.2" rx="0.6" fill="#0a5cdc"/>
<text transform="translate(274.7 664.1) rotate(-90) scale(0.91 1)" fill="#0e5ed6" stroke="#0e5ed6">WGCL-DT</text>
</g>
<g>
<rect x="276.6" y="667.96" width="9.4" height="3.4" rx="1" fill="#003c9c"/>
<rect x="277.1" y="668.56" width="8.4" height="2.2" rx="0.6" fill="#0a5cdc"/>
<text transform="translate(285 664.36) rotate(-90) scale(0.91 1)" fill="#0e5ed6" stroke="#0e5ed6">WPCH-TV</text>
</g>
<g>
<rect x="348.7" y="668.34" width="9.4" height="3.4" rx="1" fill="#003c9c"/>
<rect x="349.2" y="668.94" width="8.4" height="2.2" rx="0.6" fill="#0a5cdc"/>
<text transform="translate(357.1 664.74) rotate(-90) scale(0.91 1)" fill="#0e5ed6" stroke="#0e5ed6">WAGA-DT</text>
</g>
<g>
<rect x="130.7" y="668.3" width="12.4" height="6.8" rx="3.4" fill="#ffff00"/>
<rect x="132.5" y="670.2" width="8.8" height="3" rx="1" fill="#0050c8"/>
<text transform="translate(140.6 666.4) rotate(-90) scale(0.91 1)" fill="#0e5ed6" stroke="#0e5ed6">WXIA-DT</text>
</g>
<g>
<rect x="472.3" y="670.13" width="9.4" height="3.4" rx="1" fill="#003c9c"/>
<rect x="472.8" y="670.73" width="8.4" height="2.2" rx="0.6" fill="#0a5cdc"/>
<text transform="translate(480.7 666.53) rotate(-90) scale(0.91 1)" fill="#0e5ed6" stroke="#0e5ed6">WSB-DT</text>
</g>
<g>
<rect x="513.5" y="670.51" width="9.4" height="3.4" rx="1" fill="#003c9c"/>
<rect x="514" y="671.11" width="8.4" height="2.2" rx="0.6" fill="#0a5cdc"/>
<text transform="translate(521.9 666.91) rotate(-90) scale(0.91 1)" fill="#0e5ed6" stroke="#0e5ed6">WUPA</text>
</g>
<g>
<rect x="523.8" y="670.64" width="9.4" height="3.4" rx="1" fill="#003c9c"/>
<rect x="524.3" y="671.24" width="8.4" height="2.2" rx="0.6" fill="#0a5cdc"/>
<text transform="translate(532.2 667.04) rotate(-90) scale(0.91 1)" fill="#0e5ed6" stroke="#0e5ed6">WHSG-TV</text>
</g>
<g>
<rect x="565" y="671.02" width="9.4" height="3.4" rx="1" fill="#003c9c"/>
<rect x="565.5" y="671.62" width="8.4" height="2.2" rx="0.6" fill="#0a5cdc"/>
<text transform="translate(573.4 667.42) rotate(-90) scale(0.91 1)" fill="#0e5ed6" stroke="#0e5ed6">WUVG-DT</text>
</g>
<g>
<rect x="328.1" y="672.3" width="9.4" height="3.4" rx="1" fill="#003c9c"/>
<rect x="328.6" y="672.9" width="8.4" height="2.2" rx="0.6" fill="#0a5cdc"/>
<text transform="translate(336.5 668.7) rotate(-90) scale(0.91 1)" fill="#0e5ed6" stroke="#0e5ed6">WATL-DT</text>
</g>
<g>
<rect x="110.1" y="675.32" width="12.4" height="6.8" rx="3.4" fill="#ffff00"/>
<rect x="111.9" y="677.22" width="8.8" height="3" rx="1" fill="#0050c8"/>
<text transform="translate(120 673.42) rotate(-90) scale(0.91 1)" fill="#0e5ed6" stroke="#0e5ed6">WGTV-DT</text>
</g>
<g>
<rect x="286.9" y="682.25" width="9.4" height="3.4" rx="1" fill="#003c9c"/>
<rect x="287.4" y="682.85" width="8.4" height="2.2" rx="0.6" fill="#0a5cdc"/>
<text transform="translate(295.3 678.65) rotate(-90) scale(0.91 1)" fill="#0e5ed6" stroke="#0e5ed6">WPBA-DT</text>
</g>
<g>
<rect x="379.6" y="693.35" width="9.4" height="3.4" rx="1" fill="#003c9c"/>
<rect x="380.1" y="693.95" width="8.4" height="2.2" rx="0.6" fill="#0a5cdc"/>
<text transform="translate(388 689.75) rotate(-90) scale(0.91 1)" fill="#0e5ed6" stroke="#0e5ed6">WTBS-LD</text>
</g>
<g>
<rect x="503.2" y="696.92" width="9.4" height="3.4" rx="1" fill="#003c9c"/>
<rect x="503.7" y="697.52" width="8.4" height="2.2" rx="0.6" fill="#0a5cdc"/>
<text transform="translate(511.6 693.32) rotate(-90) scale(0.91 1)" fill="#0e5ed6" stroke="#0e5ed6">WTHC-LD</text>
</g>
<g>
<rect x="431.1" y="699.35" width="9.4" height="3.4" rx="1" fill="#003c9c"/>
<rect x="431.6" y="699.95" width="8.4" height="2.2" rx="0.6" fill="#0a5cdc"/>
<text transform="translate(439.5 695.75) rotate(-90) scale(0.91 1)" fill="#0e5ed6" stroke="#0e5ed6">WDTA-LD</text>
</g>
<g>
<rect x="389.9" y="689.65" width="9.4" height="3.4" rx="1" fill="#4a0090"/>
<rect x="390.4" y="690.25" width="8.4" height="2.2" rx="0.6" fill="#8a10dc"/>
<text transform="translate(398.3 686.05) rotate(-90) scale(0.91 1)" fill="#9010d0" stroke="#9010d0">WANN-LP</text>
</g>
<g>
<rect x="338.4" y="693.61" width="9.4" height="3.4" rx="1" fill="#4a0090"/>
<rect x="338.9" y="694.21" width="8.4" height="2.2" rx="0.6" fill="#8a10dc"/>
<text transform="translate(346.8 690.01) rotate(-90) scale(0.91 1)" fill="#9010d0" stroke="#9010d0">WTBS-LP</text>
</g>
<g>
<rect x="482.6" y="713.26" width="9.4" height="3.4" rx="1" fill="#003c9c"/>
<rect x="483.1" y="713.86" width="8.4" height="2.2" rx="0.6" fill="#0a5cdc"/>
<text transform="translate(491 709.66) rotate(-90) scale(0.91 1)" fill="#0e5ed6" stroke="#0e5ed6">WIRE-CD</text>
</g>
<g>
<rect x="359" y="713.51" width="9.4" height="3.4" rx="1" fill="#003c9c"/>
<rect x="359.5" y="714.11" width="8.4" height="2.2" rx="0.6" fill="#0a5cdc"/>
<text transform="translate(367.4 709.91) rotate(-90) scale(0.91 1)" fill="#0e5ed6" stroke="#0e5ed6">WDWW-LP</text>
</g>
<g>
<rect x="441.4" y="714.15" width="9.4" height="3.4" rx="1" fill="#003c9c"/>
<rect x="441.9" y="714.75" width="8.4" height="2.2" rx="0.6" fill="#0a5cdc"/>
<text transform="translate(449.8 710.55) rotate(-90) scale(0.91 1)" fill="#0e5ed6" stroke="#0e5ed6">WATC-DT</text>
</g>
<g opacity="0.5">
<rect x="245.7" y="716.06" width="9.4" height="3.4" rx="1" fill="#003c9c"/>
<rect x="246.2" y="716.66" width="8.4" height="2.2" rx="0.6" fill="#0a5cdc"/>
<text transform="translate(254.1 712.46) rotate(-90) scale(0.91 1)" fill="#0e5ed6" stroke="#0e5ed6">WSB-TV</text>
</g>
<g>
<rect x="595.9" y="719.51" width="9.4" height="3.4" rx="1" fill="#003c9c"/>
<rect x="596.4" y="720.11" width="8.4" height="2.2" rx="0.6" fill="#0a5cdc"/>
<text transform="translate(604.3 715.91) rotate(-90) scale(0.91 1)" fill="#0e5ed6" stroke="#0e5ed6">WPXA-DT</text>
</g>
<g>
<rect x="492.9" y="720.28" width="9.4" height="3.4" rx="1" fill="#003c9c"/>
<rect x="493.4" y="720.88" width="8.4" height="2.2" rx="0.6" fill="#0a5cdc"/>
<text transform="translate(501.3 716.68) rotate(-90) scale(0.91 1)" fill="#0e5ed6" stroke="#0e5ed6">WATC-DT</text>
</g>
<g opacity="0.5">
<rect x="245.7" y="720.79" width="9.4" height="3.4" rx="1" fill="#003c9c"/>
<rect x="246.2" y="721.39" width="8.4" height="2.2" rx="0.6" fill="#0a5cdc"/>
<text transform="translate(254.1 717.19) rotate(-90) scale(0.91 1)" fill="#0e5ed6" stroke="#0e5ed6">WUVG-DT</text>
</g>
<g>
<rect x="256" y="721.04" width="9.4" height="3.4" rx="1" fill="#003c9c"/>
<rect x="256.5" y="721.64" width="8.4" height="2.2" rx="0.6" fill="#0a5cdc"/>
<text transform="translate(264.4 717.44) rotate(-90) scale(0.91 1)" fill="#0e5ed6" stroke="#0e5ed6">WYGA-LD</text>
</g>
<g opacity="0.5">
<rect x="585.6" y="722.83" width="9.4" height="3.4" rx="1" fill="#003c9c"/>
<rect x="586.1" y="723.43" width="8.4" height="2.2" rx="0.6" fill="#0a5cdc"/>
<text transform="translate(594 719.23) rotate(-90) scale(0.91 1)" fill="#0e5ed6" stroke="#0e5ed6">WANN-CD</text>
</g>
<g>
<rect x="554.7" y="731.63" width="9.4" height="3.4" rx="1" fill="#003c9c"/>
<rect x="555.2" y="732.23" width="8.4" height="2.2" rx="0.6" fill="#0a5cdc"/>
<text transform="translate(563.1 728.03) rotate(-90) scale(0.91 1)" fill="#0e5ed6" stroke="#0e5ed6">WKTB-CD</text>
</g>
<g opacity="0.5">
<rect x="307.5" y="734.31" width="9.4" height="3.4" rx="1" fill="#003c9c"/>
<rect x="308" y="734.91" width="8.4" height="2.2" rx="0.6" fill="#0a5cdc"/>
<text transform="translate(315.9 730.71) rotate(-90) scale(0.91 1)" fill="#0e5ed6" stroke="#0e5ed6">WJSP-DT</text>
</g>
<g>
<rect x="317.8" y="738.14" width="9.4" height="3.4" rx="1" fill="#003c9c"/>
<rect x="318.3" y="738.74" width="8.4" height="2.2" rx="0.6" fill="#0a5cdc"/>
<text transform="translate(326.2 734.54) rotate(-90) scale(0.91 1)" fill="#0e5ed6" stroke="#0e5ed6">WUGA-TV</text>
</g>
<g opacity="0.5">
<rect x="161.6" y="737.72" width="12.4" height="6.8" rx="3.4" fill="#ffff00"/>
<rect x="163.4" y="739.62" width="8.8" height="3" rx="1" fill="#0050c8"/>
<text transform="translate(171.5 735.82) rotate(-90) scale(0.91 1)" fill="#0e5ed6" stroke="#0e5ed6">WMAZ-DT</text>
</g>
<g opacity="0.5">
<rect x="534.1" y="740.95" width="9.4" height="3.4" rx="1" fill="#003c9c"/>
<rect x="534.6" y="741.55" width="8.4" height="2.2" rx="0.6" fill="#0a5cdc"/>
<text transform="translate(542.5 737.35) rotate(-90) scale(0.91 1)" fill="#0e5ed6" stroke="#0e5ed6">W45DX-D</text>
</g>
<g>
<rect x="400.2" y="741.07" width="9.4" height="3.4" rx="1" fill="#003c9c"/>
<rect x="400.7" y="741.67" width="8.4" height="2.2" rx="0.6" fill="#0a5cdc"/>
<text transform="translate(408.6 737.47) rotate(-90) scale(0.91 1)" fill="#0e5ed6" stroke="#0e5ed6">WPGA-TV</text>
</g>
<g opacity="0.5">
<rect x="235.4" y="742.22" width="9.4" height="3.4" rx="1" fill="#003c9c"/>
<rect x="235.9" y="742.82" width="8.4" height="2.2" rx="0.6" fill="#0a5cdc"/>
<text transform="translate(243.8 738.62) rotate(-90) scale(0.91 1)" fill="#0e5ed6" stroke="#0e5ed6">WGXA-DT</text>
</g>
<g opacity="0.5">
<rect x="534.1" y="742.22" width="9.4" height="3.4" rx="1" fill="#003c9c"/>
<rect x="534.6" y="742.82" width="8.4" height="2.2" rx="0.6" fill="#0a5cdc"/>
<text transform="translate(542.5 738.62) rotate(-90) scale(0.91 1)" fill="#0e5ed6" stroke="#0e5ed6">WGNM-DT</text>
</g>
<g opacity="0.5">
<rect x="99.8" y="744.1" width="12.4" height="6.8" rx="3.4" fill="#ffff00"/>
<rect x="101.6" y="746" width="8.8" height="3" rx="1" fill="#0050c8"/>
<text transform="translate(109.7 742.2) rotate(-90) scale(0.91 1)" fill="#0e5ed6" stroke="#0e5ed6">WCIQ</text>
</g>
<g>
<rect x="297.2" y="747.33" width="9.4" height="3.4" rx="1" fill="#003c9c"/>
<rect x="297.7" y="747.93" width="8.4" height="2.2" rx="0.6" fill="#0a5cdc"/>
<text transform="translate(305.6 743.73) rotate(-90) scale(0.91 1)" fill="#0e5ed6" stroke="#0e5ed6">WSKC-CD</text>
</g>
<g>
<rect x="27.4" y="730.44" width="12.4" height="6.8" rx="3.4" fill="#ffff00"/>
<rect x="29.2" y="732.34" width="8.8" height="3" rx="1" fill="#7a00c8"/>
<text transform="translate(37.3 728.54) rotate(-90) scale(0.91 1)" fill="#9010d0" stroke="#9010d0">WUVM-LP</text>
</g>
<g opacity="0.5">
<rect x="389.9" y="751.92" width="9.4" height="3.4" rx="1" fill="#003c9c"/>
<rect x="390.4" y="752.52" width="8.4" height="2.2" rx="0.6" fill="#0a5cdc"/>
<text transform="translate(398.3 748.32) rotate(-90) scale(0.91 1)" fill="#0e5ed6" stroke="#0e5ed6">WSB-TV</text>
</g>
<g>
<rect x="141" y="751.88" width="12.4" height="6.8" rx="3.4" fill="#ffff00"/>
<rect x="142.8" y="753.78" width="8.8" height="3" rx="1" fill="#0050c8"/>
<text transform="translate(150.9 749.98) rotate(-90) scale(0.91 1)" fill="#0e5ed6" stroke="#0e5ed6">WTVM</text>
</g>
<g>
<rect x="359" y="739.03" width="9.4" height="3.4" rx="1" fill="#4a0090"/>
<rect x="359.5" y="739.63" width="8.4" height="2.2" rx="0.6" fill="#8a10dc"/>
<text transform="translate(367.4 735.43) rotate(-90) scale(0.91 1)" fill="#9010d0" stroke="#9010d0">WDWW-LP</text>
</g>
<g opacity="0.5">
<rect x="99.8" y="752.9" width="12.4" height="6.8" rx="3.4" fill="#ffff00"/>
<rect x="101.6" y="754.8" width="8.8" height="3" rx="1" fill="#0050c8"/>
<text transform="translate(109.7 751) rotate(-90) scale(0.91 1)" fill="#0e5ed6" stroke="#0e5ed6">WMUM-DT</text>
</g>
<g opacity="0.5">
<rect x="225.1" y="755.75" width="9.4" height="3.4" rx="1" fill="#003c9c"/>
<rect x="225.6" y="756.35" width="8.4" height="2.2" rx="0.6" fill="#0a5cdc"/>
<text transform="translate(233.5 752.15) rotate(-90) scale(0.91 1)" fill="#0e5ed6" stroke="#0e5ed6">WGGD-LP</text>
</g>
<g opacity="0.5">
<rect x="544.4" y="756.13" width="9.4" height="3.4" rx="1" fill="#003c9c"/>
<rect x="544.9" y="756.73" width="8.4" height="2.2" rx="0.6" fill="#0a5cdc"/>
<text transform="translate(552.8 752.53) rotate(-90) scale(0.91 1)" fill="#0e5ed6" stroke="#0e5ed6">WSB-TV</text>
</g>
<g opacity="0.5">
<rect x="225.1" y="756.51" width="9.4" height="3.4" rx="1" fill="#003c9c"/>
<rect x="225.6" y="757.11" width="8.4" height="2.2" rx="0.6" fill="#0a5cdc"/>
<text transform="translate(233.5 752.91) rotate(-90) scale(0.91 1)" fill="#0e5ed6" stroke="#0e5ed6">WRBL-DT</text>
</g>
<g opacity="0.5">
<rect x="482.6" y="756.77" width="9.4" height="3.4" rx="1" fill="#003c9c"/>
<rect x="483.1" y="757.37" width="8.4" height="2.2" rx="0.6" fill="#0a5cdc"/>
<text transform="translate(491 753.17) rotate(-90) scale(0.91 1)" fill="#0e5ed6" stroke="#0e5ed6">WMGT-DT</text>
</g>
</g>
</svg>
</body></html>
